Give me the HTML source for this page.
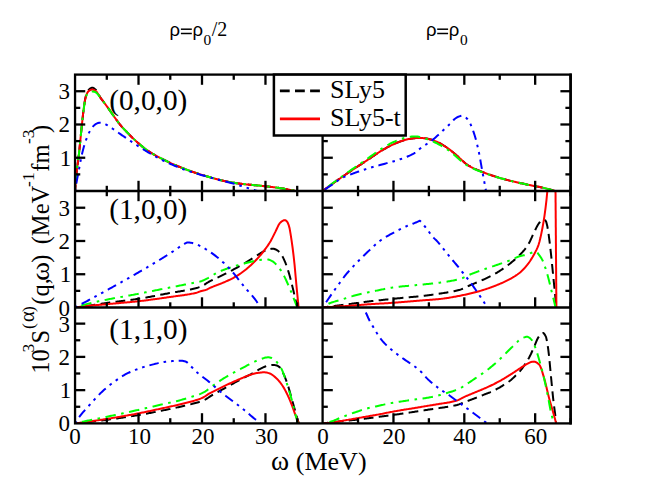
<!DOCTYPE html>
<html><head><meta charset="utf-8"><title>chart</title>
<style>html,body{margin:0;padding:0;background:#fff;}body{width:645px;height:498px;overflow:hidden;font-family:"Liberation Serif",serif;}svg{display:block;}</style></head>
<body>
<svg width="645" height="498" viewBox="0 0 645 498">
<rect x="0" y="0" width="645" height="498" fill="#ffffff"/>
<defs>
<clipPath id="p1"><rect x="75.05" y="74.60" width="247.55" height="116.40"/></clipPath>
<clipPath id="p2"><rect x="75.05" y="191.00" width="247.55" height="116.50"/></clipPath>
<clipPath id="p3"><rect x="75.05" y="307.50" width="247.55" height="115.90"/></clipPath>
<clipPath id="p4"><rect x="322.60" y="74.60" width="248.00" height="116.40"/></clipPath>
<clipPath id="p5"><rect x="322.60" y="191.00" width="248.00" height="116.50"/></clipPath>
<clipPath id="p6"><rect x="322.60" y="307.50" width="248.00" height="115.90"/></clipPath>
</defs>
<path d="M75.05 191.00 L76.05 177.79 L77.05 168.21 L78.05 161.32 L79.05 153.17 L80.06 143.21 L81.06 132.87 L82.06 123.29 L83.06 114.12 L84.06 106.36 L85.06 99.56 L86.06 95.20 L87.06 92.41 L88.06 90.53 L89.07 89.48 L90.07 88.62 L91.07 88.00 L92.07 87.71 L93.07 87.84 L94.07 88.37 L95.07 89.17 L96.07 90.10 L97.08 91.58 L98.08 93.44 L99.08 95.32 L100.08 97.12 L101.08 98.58 L102.08 99.89 L103.08 101.18 L104.08 102.52 L105.08 103.87 L106.09 105.23 L107.09 106.59 L108.09 107.97 L109.09 109.37 L110.09 110.81 L111.09 112.26 L112.09 113.72 L113.09 115.17 L114.09 116.59 L115.10 117.99 L116.10 119.39 L117.10 120.78 L118.10 122.15 L119.10 123.48 L120.10 124.75 L121.10 125.96 L122.10 127.09 L123.10 128.18 L124.11 129.23 L125.11 130.26 L126.11 131.28 L127.11 132.31 L128.11 133.36 L129.11 134.40 L130.11 135.43 L131.11 136.45 L132.11 137.45 L133.12 138.42 L134.12 139.37 L135.12 140.30 L136.12 141.22 L137.12 142.12 L138.12 143.00 L139.12 143.86 L140.12 144.71 L141.12 145.56 L142.13 146.38 L143.13 147.20 L144.13 147.99 L145.13 148.75 L146.13 149.49 L147.13 150.21 L148.13 150.91 L149.13 151.59 L150.14 152.25 L151.14 152.89 L152.14 153.51 L153.14 154.11 L154.14 154.69 L155.14 155.25 L156.14 155.80 L157.14 156.34 L158.14 156.88 L159.15 157.40 L160.15 157.93 L161.15 158.44 L162.15 158.96 L163.15 159.47 L164.15 159.97 L165.15 160.47 L166.15 160.96 L167.15 161.45 L168.16 161.93 L169.16 162.41 L170.16 162.87 L171.16 163.33 L172.16 163.79 L173.16 164.23 L174.16 164.67 L175.16 165.10 L176.16 165.53 L177.17 165.95 L178.17 166.37 L179.17 166.78 L180.17 167.19 L181.17 167.60 L182.17 168.00 L183.17 168.39 L184.17 168.78 L185.18 169.16 L186.18 169.54 L187.18 169.92 L188.18 170.29 L189.18 170.65 L190.18 171.01 L191.18 171.37 L192.18 171.72 L193.18 172.06 L194.19 172.40 L195.19 172.74 L196.19 173.07 L197.19 173.39 L198.19 173.71 L199.19 174.03 L200.19 174.34 L201.19 174.65 L202.19 174.95 L203.20 175.25 L204.20 175.55 L205.20 175.85 L206.20 176.14 L207.20 176.44 L208.20 176.73 L209.20 177.01 L210.20 177.30 L211.20 177.59 L212.21 177.87 L213.21 178.16 L214.21 178.45 L215.21 178.74 L216.21 179.02 L217.21 179.30 L218.21 179.57 L219.21 179.83 L220.21 180.09 L221.22 180.32 L222.22 180.55 L223.22 180.76 L224.22 180.98 L225.22 181.18 L226.22 181.39 L227.22 181.59 L228.22 181.78 L229.23 181.97 L230.23 182.16 L231.23 182.34 L232.23 182.52 L233.23 182.69 L234.23 182.86 L235.23 183.02 L236.23 183.17 L237.23 183.32 L238.24 183.46 L239.24 183.60 L240.24 183.73 L241.24 183.85 L242.24 183.97 L243.24 184.08 L244.24 184.19 L245.24 184.30 L246.24 184.40 L247.25 184.49 L248.25 184.59 L249.25 184.68 L250.25 184.77 L251.25 184.86 L252.25 184.95 L253.25 185.04 L254.25 185.13 L255.25 185.22 L256.26 185.32 L257.26 185.41 L258.26 185.52 L259.26 185.62 L260.26 185.73 L261.26 185.84 L262.26 185.95 L263.26 186.06 L264.26 186.17 L265.27 186.28 L266.27 186.39 L267.27 186.50 L268.27 186.61 L269.27 186.73 L270.27 186.84 L271.27 186.96 L272.27 187.08 L273.28 187.20 L274.28 187.33 L275.28 187.46 L276.28 187.59 L277.28 187.72 L278.28 187.86 L279.28 188.00 L280.28 188.14 L281.28 188.29 L282.29 188.44 L283.29 188.60 L284.29 188.77 L285.29 188.95 L286.29 189.13 L287.29 189.32 L288.29 189.51 L289.29 189.71 L290.29 189.92 L291.30 190.13 L292.30 190.34 L293.30 190.56 L294.30 190.78 L295.30 191.00" fill="none" stroke="#000000" stroke-width="2.0" stroke-linejoin="round" stroke-dasharray="9.8 5.3" stroke-dashoffset="3.9" clip-path="url(#p1)"/>
<path d="M75.05 191.00 L76.05 177.79 L77.05 168.21 L78.05 161.32 L79.05 153.17 L80.06 143.21 L81.06 132.87 L82.06 123.28 L83.06 114.07 L84.06 106.44 L85.06 99.89 L86.06 95.81 L87.06 93.28 L88.06 91.63 L89.07 90.80 L90.07 90.17 L91.07 89.72 L92.07 89.51 L93.07 89.60 L94.07 89.98 L95.07 90.56 L96.07 91.26 L97.08 92.46 L98.08 94.02 L99.08 95.56 L100.08 97.11 L101.08 98.51 L102.08 99.85 L103.08 101.17 L104.08 102.52 L105.08 103.87 L106.09 105.23 L107.09 106.59 L108.09 107.97 L109.09 109.37 L110.09 110.81 L111.09 112.26 L112.09 113.72 L113.09 115.17 L114.09 116.59 L115.10 117.99 L116.10 119.39 L117.10 120.78 L118.10 122.15 L119.10 123.48 L120.10 124.75 L121.10 125.96 L122.10 127.09 L123.10 128.18 L124.11 129.23 L125.11 130.26 L126.11 131.28 L127.11 132.31 L128.11 133.36 L129.11 134.40 L130.11 135.43 L131.11 136.45 L132.11 137.45 L133.12 138.42 L134.12 139.37 L135.12 140.30 L136.12 141.22 L137.12 142.12 L138.12 143.00 L139.12 143.86 L140.12 144.71 L141.12 145.56 L142.13 146.38 L143.13 147.20 L144.13 147.99 L145.13 148.75 L146.13 149.49 L147.13 150.21 L148.13 150.91 L149.13 151.59 L150.14 152.25 L151.14 152.89 L152.14 153.51 L153.14 154.11 L154.14 154.69 L155.14 155.25 L156.14 155.80 L157.14 156.34 L158.14 156.88 L159.15 157.40 L160.15 157.93 L161.15 158.44 L162.15 158.96 L163.15 159.47 L164.15 159.97 L165.15 160.47 L166.15 160.96 L167.15 161.45 L168.16 161.93 L169.16 162.41 L170.16 162.87 L171.16 163.33 L172.16 163.79 L173.16 164.23 L174.16 164.67 L175.16 165.10 L176.16 165.53 L177.17 165.95 L178.17 166.37 L179.17 166.78 L180.17 167.19 L181.17 167.60 L182.17 168.00 L183.17 168.39 L184.17 168.78 L185.18 169.16 L186.18 169.54 L187.18 169.92 L188.18 170.29 L189.18 170.65 L190.18 171.01 L191.18 171.37 L192.18 171.72 L193.18 172.06 L194.19 172.40 L195.19 172.74 L196.19 173.07 L197.19 173.39 L198.19 173.71 L199.19 174.03 L200.19 174.34 L201.19 174.65 L202.19 174.95 L203.20 175.25 L204.20 175.55 L205.20 175.85 L206.20 176.14 L207.20 176.44 L208.20 176.73 L209.20 177.01 L210.20 177.30 L211.20 177.59 L212.21 177.87 L213.21 178.16 L214.21 178.45 L215.21 178.74 L216.21 179.02 L217.21 179.30 L218.21 179.57 L219.21 179.83 L220.21 180.09 L221.22 180.32 L222.22 180.55 L223.22 180.76 L224.22 180.98 L225.22 181.18 L226.22 181.39 L227.22 181.59 L228.22 181.78 L229.23 181.97 L230.23 182.16 L231.23 182.34 L232.23 182.52 L233.23 182.69 L234.23 182.86 L235.23 183.02 L236.23 183.17 L237.23 183.32 L238.24 183.46 L239.24 183.60 L240.24 183.73 L241.24 183.85 L242.24 183.97 L243.24 184.08 L244.24 184.19 L245.24 184.30 L246.24 184.40 L247.25 184.49 L248.25 184.59 L249.25 184.68 L250.25 184.77 L251.25 184.86 L252.25 184.95 L253.25 185.04 L254.25 185.13 L255.25 185.22 L256.26 185.32 L257.26 185.41 L258.26 185.52 L259.26 185.62 L260.26 185.73 L261.26 185.84 L262.26 185.95 L263.26 186.06 L264.26 186.17 L265.27 186.28 L266.27 186.39 L267.27 186.50 L268.27 186.61 L269.27 186.73 L270.27 186.84 L271.27 186.96 L272.27 187.08 L273.28 187.20 L274.28 187.33 L275.28 187.46 L276.28 187.59 L277.28 187.72 L278.28 187.86 L279.28 188.00 L280.28 188.14 L281.28 188.29 L282.29 188.44 L283.29 188.60 L284.29 188.77 L285.29 188.95 L286.29 189.13 L287.29 189.32 L288.29 189.51 L289.29 189.71 L290.29 189.92 L291.30 190.13 L292.30 190.34 L293.30 190.56 L294.30 190.78 L295.30 191.00" fill="none" stroke="#ff0000" stroke-width="2.0" stroke-linejoin="round" clip-path="url(#p1)"/>
<path d="M75.05 191.00 L76.05 177.79 L77.05 168.21 L78.05 161.32 L79.05 153.17 L80.06 143.21 L81.06 132.87 L82.06 123.26 L83.06 114.01 L84.06 106.51 L85.06 100.23 L86.06 96.46 L87.06 94.19 L88.06 92.78 L89.07 92.21 L90.07 91.80 L91.07 91.53 L92.07 91.40 L93.07 91.46 L94.07 91.68 L95.07 92.03 L96.07 92.47 L97.08 93.39 L98.08 94.63 L99.08 95.82 L100.08 97.10 L101.08 98.43 L102.08 99.79 L103.08 101.17 L104.08 102.52 L105.08 103.87 L106.09 105.23 L107.09 106.59 L108.09 107.97 L109.09 109.37 L110.09 110.81 L111.09 112.26 L112.09 113.72 L113.09 115.17 L114.09 116.59 L115.10 117.99 L116.10 119.39 L117.10 120.78 L118.10 122.15 L119.10 123.48 L120.10 124.75 L121.10 125.96 L122.10 127.09 L123.10 128.18 L124.11 129.23 L125.11 130.26 L126.11 131.28 L127.11 132.31 L128.11 133.36 L129.11 134.40 L130.11 135.43 L131.11 136.45 L132.11 137.45 L133.12 138.42 L134.12 139.37 L135.12 140.30 L136.12 141.22 L137.12 142.12 L138.12 143.00 L139.12 143.86 L140.12 144.71 L141.12 145.56 L142.13 146.38 L143.13 147.20 L144.13 147.99 L145.13 148.75 L146.13 149.49 L147.13 150.21 L148.13 150.91 L149.13 151.59 L150.14 152.25 L151.14 152.89 L152.14 153.51 L153.14 154.11 L154.14 154.69 L155.14 155.25 L156.14 155.80 L157.14 156.34 L158.14 156.88 L159.15 157.40 L160.15 157.93 L161.15 158.44 L162.15 158.96 L163.15 159.47 L164.15 159.97 L165.15 160.47 L166.15 160.96 L167.15 161.45 L168.16 161.93 L169.16 162.41 L170.16 162.87 L171.16 163.33 L172.16 163.79 L173.16 164.23 L174.16 164.67 L175.16 165.10 L176.16 165.53 L177.17 165.95 L178.17 166.37 L179.17 166.78 L180.17 167.19 L181.17 167.60 L182.17 168.00 L183.17 168.39 L184.17 168.78 L185.18 169.16 L186.18 169.54 L187.18 169.92 L188.18 170.29 L189.18 170.65 L190.18 171.01 L191.18 171.37 L192.18 171.72 L193.18 172.06 L194.19 172.40 L195.19 172.74 L196.19 173.07 L197.19 173.39 L198.19 173.71 L199.19 174.03 L200.19 174.34 L201.19 174.65 L202.19 174.95 L203.20 175.25 L204.20 175.55 L205.20 175.85 L206.20 176.14 L207.20 176.44 L208.20 176.73 L209.20 177.01 L210.20 177.30 L211.20 177.59 L212.21 177.87 L213.21 178.16 L214.21 178.45 L215.21 178.74 L216.21 179.02 L217.21 179.30 L218.21 179.57 L219.21 179.83 L220.21 180.09 L221.22 180.32 L222.22 180.55 L223.22 180.76 L224.22 180.98 L225.22 181.18 L226.22 181.39 L227.22 181.59 L228.22 181.78 L229.23 181.97 L230.23 182.16 L231.23 182.34 L232.23 182.52 L233.23 182.69 L234.23 182.86 L235.23 183.02 L236.23 183.17 L237.23 183.32 L238.24 183.46 L239.24 183.60 L240.24 183.73 L241.24 183.85 L242.24 183.97 L243.24 184.08 L244.24 184.19 L245.24 184.30 L246.24 184.40 L247.25 184.49 L248.25 184.59 L249.25 184.68 L250.25 184.77 L251.25 184.86 L252.25 184.95 L253.25 185.04 L254.25 185.13 L255.25 185.22 L256.26 185.32 L257.26 185.41 L258.26 185.52 L259.26 185.62 L260.26 185.73 L261.26 185.84 L262.26 185.95 L263.26 186.06 L264.26 186.17 L265.27 186.28 L266.27 186.39 L267.27 186.50 L268.27 186.61 L269.27 186.73 L270.27 186.84 L271.27 186.96 L272.27 187.08 L273.28 187.20 L274.28 187.33 L275.28 187.46 L276.28 187.59 L277.28 187.72 L278.28 187.86 L279.28 188.00 L280.28 188.14 L281.28 188.29 L282.29 188.44 L283.29 188.60 L284.29 188.77 L285.29 188.95 L286.29 189.13 L287.29 189.32 L288.29 189.51 L289.29 189.71 L290.29 189.92 L291.30 190.13 L292.30 190.34 L293.30 190.56 L294.30 190.78 L295.30 191.00" fill="none" stroke="#00ff00" stroke-width="2.0" stroke-linejoin="round" stroke-dasharray="10.5 5.5 2.6 5.5" stroke-dashoffset="17.1" clip-path="url(#p1)"/>
<path d="M75.05 191.00 L76.05 185.09 L77.05 179.54 L78.05 174.30 L79.06 169.08 L80.06 163.69 L81.06 158.46 L82.06 153.73 L83.06 149.71 L84.06 146.10 L85.06 142.84 L86.07 139.90 L87.07 137.22 L88.07 134.78 L89.07 132.64 L90.07 130.78 L91.07 129.10 L92.07 127.62 L93.07 126.42 L94.08 125.39 L95.08 124.48 L96.08 123.80 L97.08 123.37 L98.08 123.00 L99.08 122.76 L100.08 122.71 L101.09 122.82 L102.09 123.04 L103.09 123.32 L104.09 123.63 L105.09 124.02 L106.09 124.53 L107.09 125.13 L108.10 125.77 L109.10 126.43 L110.10 127.06 L111.10 127.69 L112.10 128.34 L113.10 129.01 L114.10 129.69 L115.10 130.38 L116.11 131.09 L117.11 131.79 L118.11 132.51 L119.11 133.22 L120.11 133.92 L121.11 134.62 L122.11 135.31 L123.12 135.99 L124.12 136.68 L125.12 137.37 L126.12 138.05 L127.12 138.74 L128.12 139.42 L129.12 140.10 L130.13 140.78 L131.13 141.45 L132.13 142.12 L133.13 142.78 L134.13 143.45 L135.13 144.11 L136.13 144.76 L137.14 145.42 L138.14 146.07 L139.14 146.72 L140.14 147.37 L141.14 148.01 L142.14 148.64 L143.14 149.27 L144.14 149.89 L145.15 150.51 L146.15 151.11 L147.15 151.72 L148.15 152.32 L149.15 152.92 L150.15 153.51 L151.15 154.10 L152.16 154.68 L153.16 155.25 L154.16 155.82 L155.16 156.38 L156.16 156.92 L157.16 157.46 L158.16 157.99 L159.17 158.51 L160.17 159.02 L161.17 159.53 L162.17 160.03 L163.17 160.52 L164.17 161.01 L165.17 161.49 L166.18 161.96 L167.18 162.43 L168.18 162.89 L169.18 163.35 L170.18 163.80 L171.18 164.25 L172.18 164.69 L173.18 165.14 L174.19 165.57 L175.19 166.01 L176.19 166.43 L177.19 166.85 L178.19 167.27 L179.19 167.68 L180.19 168.07 L181.20 168.46 L182.20 168.84 L183.20 169.21 L184.20 169.57 L185.20 169.92 L186.20 170.27 L187.20 170.61 L188.21 170.94 L189.21 171.27 L190.21 171.60 L191.21 171.92 L192.21 172.23 L193.21 172.54 L194.21 172.85 L195.21 173.16 L196.22 173.46 L197.22 173.77 L198.22 174.07 L199.22 174.37 L200.22 174.67 L201.22 174.96 L202.22 175.26 L203.23 175.55 L204.23 175.83 L205.23 176.12 L206.23 176.40 L207.23 176.68 L208.23 176.96 L209.23 177.23 L210.24 177.51 L211.24 177.78 L212.24 178.05 L213.24 178.32 L214.24 178.59 L215.24 178.87 L216.24 179.13 L217.25 179.40 L218.25 179.66 L219.25 179.91 L220.25 180.17 L221.25 180.42 L222.25 180.68 L223.25 180.93 L224.25 181.18 L225.26 181.44 L226.26 181.69 L227.26 181.95 L228.26 182.21 L229.26 182.47 L230.26 182.74 L231.26 183.01 L232.27 183.28 L233.27 183.56 L234.27 183.85 L235.27 184.14 L236.27 184.44 L237.27 184.74 L238.27 185.05 L239.28 185.36 L240.28 185.68 L241.28 185.99 L242.28 186.31 L243.28 186.62 L244.28 186.94 L245.28 187.25 L246.28 187.56 L247.29 187.87 L248.29 188.19 L249.29 188.50 L250.29 188.81 L251.29 189.12 L252.29 189.43 L253.29 189.75 L254.30 190.06 L255.30 190.37 L256.30 190.69 L257.30 191.00" fill="none" stroke="#0000ff" stroke-width="2.0" stroke-linejoin="round" stroke-dasharray="9.5 5 2.6 5 2.6 5" stroke-dashoffset="22.2" clip-path="url(#p1)"/>
<path d="M74.50 307.50 L75.50 307.38 L76.50 307.26 L77.50 307.13 L78.50 307.01 L79.50 306.89 L80.50 306.76 L81.50 306.63 L82.50 306.50 L83.50 306.37 L84.50 306.24 L85.50 306.11 L86.51 305.98 L87.51 305.84 L88.51 305.71 L89.51 305.57 L90.51 305.43 L91.51 305.29 L92.51 305.14 L93.51 305.00 L94.51 304.85 L95.51 304.70 L96.51 304.54 L97.51 304.39 L98.51 304.23 L99.51 304.08 L100.51 303.92 L101.51 303.77 L102.51 303.61 L103.51 303.46 L104.51 303.31 L105.51 303.15 L106.51 303.00 L107.51 302.86 L108.52 302.71 L109.52 302.57 L110.52 302.43 L111.52 302.29 L112.52 302.16 L113.52 302.03 L114.52 301.90 L115.52 301.77 L116.52 301.64 L117.52 301.52 L118.52 301.39 L119.52 301.27 L120.52 301.15 L121.52 301.03 L122.52 300.91 L123.52 300.79 L124.52 300.66 L125.52 300.54 L126.52 300.42 L127.52 300.29 L128.52 300.17 L129.52 300.04 L130.53 299.91 L131.53 299.78 L132.53 299.65 L133.53 299.51 L134.53 299.38 L135.53 299.23 L136.53 299.09 L137.53 298.94 L138.53 298.79 L139.53 298.63 L140.53 298.47 L141.53 298.31 L142.53 298.14 L143.53 297.97 L144.53 297.80 L145.53 297.63 L146.53 297.45 L147.53 297.27 L148.53 297.09 L149.53 296.90 L150.53 296.72 L151.53 296.53 L152.53 296.34 L153.54 296.15 L154.54 295.96 L155.54 295.77 L156.54 295.57 L157.54 295.38 L158.54 295.19 L159.54 294.99 L160.54 294.80 L161.54 294.60 L162.54 294.41 L163.54 294.22 L164.54 294.03 L165.54 293.84 L166.54 293.65 L167.54 293.46 L168.54 293.27 L169.54 293.08 L170.54 292.90 L171.54 292.72 L172.54 292.55 L173.54 292.38 L174.54 292.21 L175.55 292.05 L176.55 291.89 L177.55 291.73 L178.55 291.56 L179.55 291.40 L180.55 291.24 L181.55 291.08 L182.55 290.91 L183.55 290.75 L184.55 290.57 L185.55 290.40 L186.55 290.22 L187.55 290.03 L188.55 289.84 L189.55 289.64 L190.55 289.43 L191.55 289.22 L192.55 288.99 L193.55 288.76 L194.55 288.51 L195.55 288.26 L196.55 287.98 L197.56 287.69 L198.56 287.37 L199.56 287.02 L200.56 286.65 L201.56 286.24 L202.56 285.81 L203.56 285.31 L204.56 284.66 L205.56 283.93 L206.56 283.20 L207.56 282.57 L208.56 282.00 L209.56 281.47 L210.56 280.96 L211.56 280.46 L212.56 279.99 L213.56 279.52 L214.56 279.06 L215.56 278.60 L216.56 278.14 L217.56 277.68 L218.56 277.20 L219.57 276.72 L220.57 276.22 L221.57 275.71 L222.57 275.21 L223.57 274.70 L224.57 274.20 L225.57 273.68 L226.57 273.17 L227.57 272.66 L228.57 272.14 L229.57 271.61 L230.57 271.08 L231.57 270.55 L232.57 270.02 L233.57 269.47 L234.57 268.93 L235.57 268.38 L236.57 267.83 L237.57 267.27 L238.57 266.71 L239.57 266.15 L240.57 265.58 L241.57 265.01 L242.58 264.43 L243.58 263.84 L244.58 263.25 L245.58 262.65 L246.58 262.04 L247.58 261.42 L248.58 260.78 L249.58 260.14 L250.58 259.50 L251.58 258.85 L252.58 258.20 L253.58 257.56 L254.58 256.92 L255.58 256.29 L256.58 255.67 L257.58 255.07 L258.58 254.46 L259.58 253.82 L260.58 253.18 L261.58 252.54 L262.58 251.93 L263.58 251.36 L264.59 250.86 L265.59 250.44 L266.59 250.11 L267.59 249.77 L268.59 249.46 L269.59 249.17 L270.59 248.94 L271.59 248.78 L272.59 248.70 L273.59 248.77 L274.59 249.04 L275.59 249.46 L276.59 249.98 L277.59 250.55 L278.59 251.32 L279.59 252.36 L280.59 253.60 L281.59 254.99 L282.59 256.62 L283.59 258.60 L284.59 260.83 L285.59 263.23 L286.60 265.90 L287.60 268.89 L288.60 272.11 L289.60 275.53 L290.60 279.30 L291.60 283.29 L292.60 287.37 L293.60 291.47 L294.60 295.76 L295.60 300.02 L296.60 304.00 L297.60 307.50" fill="none" stroke="#000000" stroke-width="2.0" stroke-linejoin="round" stroke-dasharray="9.8 5.3" stroke-dashoffset="3.9" clip-path="url(#p2)"/>
<path d="M74.50 307.50 L75.50 307.37 L76.50 307.25 L77.50 307.12 L78.50 307.00 L79.50 306.88 L80.50 306.76 L81.50 306.64 L82.50 306.52 L83.50 306.41 L84.50 306.29 L85.50 306.18 L86.51 306.07 L87.51 305.96 L88.51 305.85 L89.51 305.75 L90.51 305.65 L91.51 305.55 L92.51 305.45 L93.51 305.36 L94.51 305.26 L95.51 305.17 L96.51 305.08 L97.51 304.99 L98.51 304.90 L99.51 304.82 L100.51 304.73 L101.51 304.64 L102.51 304.56 L103.51 304.47 L104.51 304.39 L105.51 304.30 L106.51 304.21 L107.51 304.12 L108.52 304.03 L109.52 303.94 L110.52 303.85 L111.52 303.76 L112.52 303.67 L113.52 303.58 L114.52 303.49 L115.52 303.40 L116.52 303.32 L117.52 303.23 L118.52 303.14 L119.52 303.05 L120.52 302.96 L121.52 302.87 L122.52 302.79 L123.52 302.70 L124.52 302.61 L125.52 302.52 L126.52 302.42 L127.52 302.33 L128.52 302.24 L129.52 302.14 L130.53 302.05 L131.53 301.95 L132.53 301.85 L133.53 301.75 L134.53 301.65 L135.53 301.54 L136.53 301.44 L137.53 301.33 L138.53 301.22 L139.53 301.11 L140.53 300.99 L141.53 300.88 L142.53 300.76 L143.53 300.64 L144.53 300.52 L145.53 300.39 L146.53 300.27 L147.53 300.14 L148.53 300.01 L149.53 299.88 L150.53 299.75 L151.53 299.61 L152.53 299.48 L153.54 299.34 L154.54 299.21 L155.54 299.07 L156.54 298.93 L157.54 298.79 L158.54 298.65 L159.54 298.51 L160.54 298.37 L161.54 298.22 L162.54 298.08 L163.54 297.94 L164.54 297.79 L165.54 297.65 L166.54 297.50 L167.54 297.36 L168.54 297.21 L169.54 297.07 L170.54 296.92 L171.54 296.78 L172.54 296.64 L173.54 296.51 L174.54 296.37 L175.55 296.24 L176.55 296.11 L177.55 295.98 L178.55 295.84 L179.55 295.71 L180.55 295.58 L181.55 295.44 L182.55 295.30 L183.55 295.16 L184.55 295.01 L185.55 294.86 L186.55 294.71 L187.55 294.55 L188.55 294.38 L189.55 294.20 L190.55 294.02 L191.55 293.83 L192.55 293.64 L193.55 293.43 L194.55 293.21 L195.55 292.98 L196.55 292.73 L197.55 292.41 L198.56 292.03 L199.56 291.65 L200.56 291.29 L201.56 291.00 L202.56 290.75 L203.56 290.52 L204.56 290.28 L205.56 290.00 L206.56 289.65 L207.56 289.21 L208.56 288.71 L209.56 288.18 L210.56 287.69 L211.56 287.24 L212.56 286.82 L213.56 286.42 L214.56 286.03 L215.56 285.64 L216.56 285.27 L217.56 284.89 L218.56 284.51 L219.56 284.13 L220.57 283.74 L221.57 283.34 L222.57 282.93 L223.57 282.50 L224.57 282.06 L225.57 281.62 L226.57 281.17 L227.57 280.72 L228.57 280.26 L229.57 279.78 L230.57 279.30 L231.57 278.81 L232.57 278.29 L233.57 277.77 L234.57 277.22 L235.57 276.65 L236.57 276.06 L237.57 275.45 L238.57 274.81 L239.57 274.14 L240.57 273.46 L241.57 272.75 L242.58 272.02 L243.58 271.27 L244.58 270.50 L245.58 269.71 L246.58 268.91 L247.58 268.08 L248.58 267.24 L249.58 266.37 L250.58 265.47 L251.58 264.54 L252.58 263.58 L253.58 262.59 L254.58 261.58 L255.58 260.54 L256.58 259.48 L257.58 258.40 L258.58 257.30 L259.58 256.17 L260.58 255.03 L261.58 253.83 L262.58 252.58 L263.58 251.30 L264.58 249.97 L265.59 248.61 L266.59 247.23 L267.59 245.83 L268.59 244.36 L269.59 242.82 L270.59 241.16 L271.59 239.34 L272.59 237.38 L273.59 235.35 L274.59 233.33 L275.59 231.38 L276.59 229.30 L277.59 227.11 L278.59 225.05 L279.59 223.40 L280.59 222.35 L281.59 221.54 L282.59 220.84 L283.59 220.34 L284.59 220.11 L285.59 220.33 L286.59 221.10 L287.60 222.37 L288.60 224.83 L289.60 228.39 L290.60 234.06 L291.60 240.64 L292.60 247.76 L293.60 255.86 L294.60 265.19 L295.60 276.28 L296.60 287.12 L297.60 297.40 L298.60 307.50" fill="none" stroke="#ff0000" stroke-width="2.0" stroke-linejoin="round" clip-path="url(#p2)"/>
<path d="M74.50 307.50 L75.50 307.19 L76.51 306.89 L77.51 306.59 L78.51 306.29 L79.52 306.00 L80.52 305.72 L81.52 305.43 L82.53 305.16 L83.53 304.89 L84.53 304.62 L85.53 304.36 L86.54 304.11 L87.54 303.86 L88.54 303.61 L89.55 303.36 L90.55 303.12 L91.55 302.88 L92.56 302.65 L93.56 302.42 L94.56 302.19 L95.57 301.96 L96.57 301.74 L97.57 301.52 L98.58 301.30 L99.58 301.09 L100.58 300.88 L101.59 300.67 L102.59 300.46 L103.59 300.26 L104.59 300.06 L105.60 299.86 L106.60 299.66 L107.60 299.46 L108.61 299.27 L109.61 299.08 L110.61 298.89 L111.62 298.70 L112.62 298.51 L113.62 298.33 L114.63 298.14 L115.63 297.96 L116.63 297.78 L117.64 297.59 L118.64 297.41 L119.64 297.23 L120.65 297.05 L121.65 296.87 L122.65 296.69 L123.65 296.51 L124.66 296.33 L125.66 296.15 L126.66 295.97 L127.67 295.79 L128.67 295.60 L129.67 295.42 L130.68 295.24 L131.68 295.05 L132.68 294.87 L133.69 294.68 L134.69 294.49 L135.69 294.30 L136.70 294.11 L137.70 293.92 L138.70 293.73 L139.70 293.53 L140.71 293.33 L141.71 293.14 L142.71 292.94 L143.72 292.74 L144.72 292.55 L145.72 292.35 L146.73 292.15 L147.73 291.95 L148.73 291.75 L149.74 291.55 L150.74 291.35 L151.74 291.15 L152.75 290.95 L153.75 290.75 L154.75 290.55 L155.76 290.34 L156.76 290.14 L157.76 289.94 L158.76 289.74 L159.77 289.54 L160.77 289.34 L161.77 289.14 L162.78 288.94 L163.78 288.74 L164.78 288.54 L165.79 288.34 L166.79 288.14 L167.79 287.94 L168.80 287.74 L169.80 287.54 L170.80 287.34 L171.81 287.14 L172.81 286.95 L173.81 286.75 L174.82 286.55 L175.82 286.36 L176.82 286.16 L177.82 285.97 L178.83 285.77 L179.83 285.57 L180.83 285.38 L181.84 285.18 L182.84 284.99 L183.84 284.79 L184.85 284.60 L185.85 284.40 L186.85 284.20 L187.86 284.01 L188.86 283.81 L189.86 283.61 L190.87 283.42 L191.87 283.22 L192.87 283.02 L193.88 282.82 L194.88 282.62 L195.88 282.43 L196.88 282.26 L197.89 282.07 L198.89 281.87 L199.89 281.63 L200.90 281.32 L201.90 280.95 L202.90 280.52 L203.91 280.04 L204.91 279.55 L205.91 279.04 L206.92 278.54 L207.92 278.04 L208.92 277.50 L209.93 276.93 L210.93 276.34 L211.93 275.74 L212.94 275.13 L213.94 274.52 L214.94 273.92 L215.94 273.34 L216.95 272.78 L217.95 272.25 L218.95 271.76 L219.96 271.32 L220.96 270.91 L221.96 270.51 L222.97 270.12 L223.97 269.74 L224.97 269.37 L225.98 269.01 L226.98 268.65 L227.98 268.31 L228.99 267.97 L229.99 267.65 L230.99 267.33 L232.00 267.01 L233.00 266.71 L234.00 266.40 L235.00 266.11 L236.01 265.82 L237.01 265.53 L238.01 265.25 L239.02 264.97 L240.02 264.69 L241.02 264.42 L242.03 264.15 L243.03 263.88 L244.03 263.61 L245.04 263.34 L246.04 263.08 L247.04 262.81 L248.05 262.54 L249.05 262.27 L250.05 262.01 L251.05 261.76 L252.06 261.51 L253.06 261.27 L254.06 261.04 L255.07 260.83 L256.07 260.63 L257.07 260.45 L258.08 260.29 L259.08 260.13 L260.08 259.97 L261.09 259.81 L262.09 259.66 L263.09 259.53 L264.10 259.42 L265.10 259.34 L266.10 259.30 L267.11 259.33 L268.11 259.50 L269.11 259.79 L270.11 260.16 L271.12 260.60 L272.12 261.06 L273.12 261.66 L274.13 262.45 L275.13 263.39 L276.13 264.44 L277.14 265.55 L278.14 266.70 L279.14 267.97 L280.15 269.39 L281.15 270.92 L282.15 272.56 L283.16 274.27 L284.16 276.13 L285.16 278.15 L286.17 280.29 L287.17 282.50 L288.17 284.74 L289.17 287.07 L290.18 289.49 L291.18 291.97 L292.18 294.46 L293.19 296.98 L294.19 299.55 L295.19 302.16 L296.20 304.81 L297.20 307.50" fill="none" stroke="#00ff00" stroke-width="2.0" stroke-linejoin="round" stroke-dasharray="10.5 5.5 2.6 5.5" stroke-dashoffset="17.1" clip-path="url(#p2)"/>
<path d="M75.05 307.50 L76.05 306.97 L77.05 306.43 L78.06 305.89 L79.06 305.36 L80.06 304.82 L81.06 304.28 L82.07 303.75 L83.07 303.21 L84.07 302.67 L85.07 302.13 L86.07 301.59 L87.08 301.04 L88.08 300.50 L89.08 299.96 L90.08 299.42 L91.09 298.87 L92.09 298.33 L93.09 297.78 L94.09 297.24 L95.09 296.69 L96.10 296.14 L97.10 295.59 L98.10 295.04 L99.10 294.49 L100.11 293.94 L101.11 293.39 L102.11 292.84 L103.11 292.29 L104.11 291.74 L105.12 291.18 L106.12 290.63 L107.12 290.08 L108.12 289.53 L109.13 288.97 L110.13 288.42 L111.13 287.86 L112.13 287.31 L113.13 286.75 L114.14 286.20 L115.14 285.64 L116.14 285.09 L117.14 284.53 L118.15 283.97 L119.15 283.41 L120.15 282.85 L121.15 282.29 L122.15 281.73 L123.16 281.16 L124.16 280.60 L125.16 280.03 L126.16 279.47 L127.17 278.90 L128.17 278.33 L129.17 277.76 L130.17 277.19 L131.18 276.62 L132.18 276.05 L133.18 275.47 L134.18 274.89 L135.18 274.32 L136.19 273.74 L137.19 273.16 L138.19 272.57 L139.19 271.99 L140.20 271.41 L141.20 270.82 L142.20 270.24 L143.20 269.65 L144.20 269.06 L145.21 268.47 L146.21 267.88 L147.21 267.29 L148.21 266.70 L149.22 266.11 L150.22 265.52 L151.22 264.92 L152.22 264.32 L153.22 263.72 L154.23 263.12 L155.23 262.52 L156.23 261.92 L157.23 261.31 L158.24 260.70 L159.24 260.09 L160.24 259.48 L161.24 258.87 L162.24 258.25 L163.25 257.63 L164.25 257.01 L165.25 256.39 L166.25 255.76 L167.26 255.13 L168.26 254.50 L169.26 253.87 L170.26 253.23 L171.26 252.58 L172.27 251.91 L173.27 251.23 L174.27 250.53 L175.27 249.83 L176.28 249.13 L177.28 248.43 L178.28 247.74 L179.28 247.06 L180.28 246.39 L181.29 245.74 L182.29 245.11 L183.29 244.51 L184.29 243.94 L185.30 243.40 L186.30 242.89 L187.30 242.40 L188.31 242.46 L189.32 242.57 L190.33 242.70 L191.34 242.86 L192.35 243.07 L193.36 243.33 L194.37 243.64 L195.38 243.98 L196.39 244.34 L197.40 244.73 L198.41 245.16 L199.42 245.63 L200.43 246.12 L201.44 246.65 L202.45 247.20 L203.46 247.78 L204.47 248.38 L205.48 248.99 L206.48 249.62 L207.49 250.27 L208.50 250.92 L209.51 251.58 L210.52 252.25 L211.53 252.94 L212.54 253.65 L213.55 254.38 L214.56 255.13 L215.57 255.91 L216.58 256.71 L217.59 257.52 L218.60 258.36 L219.61 259.21 L220.62 260.09 L221.63 260.98 L222.64 261.89 L223.65 262.82 L224.66 263.76 L225.67 264.72 L226.68 265.70 L227.69 266.69 L228.70 267.71 L229.71 268.79 L230.72 269.91 L231.73 271.06 L232.74 272.25 L233.75 273.47 L234.76 274.71 L235.77 275.97 L236.78 277.24 L237.79 278.53 L238.80 279.82 L239.81 281.11 L240.82 282.40 L241.82 283.68 L242.83 284.95 L243.84 286.20 L244.85 287.42 L245.86 288.62 L246.87 289.77 L247.88 290.89 L248.89 292.00 L249.90 293.11 L250.91 294.23 L251.92 295.38 L252.93 296.57 L253.94 297.82 L254.95 299.13 L255.96 300.52 L256.97 302.02 L257.98 303.73 L258.99 305.58 L260.00 307.50" fill="none" stroke="#0000ff" stroke-width="2.0" stroke-linejoin="round" stroke-dasharray="9.5 5 2.6 5 2.6 5" stroke-dashoffset="22.2" clip-path="url(#p2)"/>
<path d="M75.05 423.40 L76.05 423.30 L77.06 423.19 L78.06 423.09 L79.06 422.99 L80.07 422.88 L81.07 422.78 L82.07 422.67 L83.08 422.56 L84.08 422.45 L85.08 422.35 L86.09 422.24 L87.09 422.12 L88.09 422.01 L89.10 421.90 L90.10 421.79 L91.10 421.68 L92.11 421.56 L93.11 421.45 L94.11 421.33 L95.12 421.22 L96.12 421.10 L97.12 420.99 L98.13 420.87 L99.13 420.75 L100.13 420.63 L101.14 420.51 L102.14 420.39 L103.14 420.27 L104.15 420.15 L105.15 420.02 L106.15 419.90 L107.16 419.77 L108.16 419.64 L109.16 419.51 L110.17 419.38 L111.17 419.24 L112.17 419.11 L113.18 418.97 L114.18 418.83 L115.18 418.69 L116.19 418.55 L117.19 418.41 L118.19 418.27 L119.20 418.12 L120.20 417.97 L121.20 417.83 L122.21 417.68 L123.21 417.53 L124.21 417.38 L125.22 417.22 L126.22 417.07 L127.22 416.91 L128.23 416.76 L129.23 416.60 L130.23 416.44 L131.24 416.28 L132.24 416.12 L133.25 415.96 L134.25 415.79 L135.25 415.63 L136.26 415.46 L137.26 415.29 L138.26 415.12 L139.27 414.95 L140.27 414.78 L141.27 414.60 L142.28 414.42 L143.28 414.24 L144.28 414.05 L145.29 413.87 L146.29 413.68 L147.29 413.49 L148.30 413.30 L149.30 413.10 L150.30 412.91 L151.31 412.72 L152.31 412.52 L153.31 412.32 L154.32 412.12 L155.32 411.93 L156.32 411.73 L157.33 411.53 L158.33 411.33 L159.33 411.13 L160.34 410.93 L161.34 410.73 L162.34 410.54 L163.35 410.33 L164.35 410.13 L165.35 409.93 L166.36 409.73 L167.36 409.52 L168.36 409.32 L169.37 409.11 L170.37 408.90 L171.37 408.69 L172.38 408.48 L173.38 408.27 L174.38 408.05 L175.39 407.83 L176.39 407.61 L177.39 407.39 L178.40 407.17 L179.40 406.95 L180.40 406.72 L181.41 406.50 L182.41 406.27 L183.41 406.04 L184.42 405.81 L185.42 405.57 L186.42 405.33 L187.43 405.09 L188.43 404.85 L189.43 404.60 L190.44 404.35 L191.44 404.10 L192.44 403.84 L193.45 403.58 L194.45 403.32 L195.45 403.06 L196.46 402.79 L197.46 402.51 L198.46 402.22 L199.47 401.91 L200.47 401.58 L201.47 401.23 L202.48 400.84 L203.48 400.42 L204.48 399.95 L205.49 399.44 L206.49 398.86 L207.49 398.21 L208.50 397.52 L209.50 396.83 L210.50 396.16 L211.51 395.54 L212.51 394.94 L213.51 394.35 L214.52 393.78 L215.52 393.21 L216.52 392.65 L217.53 392.10 L218.53 391.55 L219.53 391.00 L220.54 390.46 L221.54 389.91 L222.54 389.36 L223.55 388.81 L224.55 388.26 L225.55 387.71 L226.56 387.15 L227.56 386.59 L228.56 386.04 L229.57 385.48 L230.57 384.93 L231.57 384.37 L232.58 383.82 L233.58 383.27 L234.58 382.72 L235.59 382.18 L236.59 381.63 L237.59 381.09 L238.60 380.56 L239.60 380.02 L240.60 379.49 L241.61 378.97 L242.61 378.46 L243.62 377.95 L244.62 377.45 L245.62 376.94 L246.63 376.44 L247.63 375.93 L248.63 375.42 L249.64 374.89 L250.64 374.36 L251.64 373.80 L252.65 373.22 L253.65 372.64 L254.65 372.04 L255.66 371.45 L256.66 370.86 L257.66 370.27 L258.67 369.70 L259.67 369.15 L260.67 368.62 L261.68 368.12 L262.68 367.65 L263.68 367.20 L264.69 366.74 L265.69 366.31 L266.69 365.94 L267.70 365.66 L268.70 365.47 L269.70 365.29 L270.71 365.15 L271.71 365.04 L272.71 365.00 L273.72 365.03 L274.72 365.12 L275.72 365.26 L276.73 365.48 L277.73 365.93 L278.73 366.54 L279.74 367.39 L280.74 368.73 L281.74 370.37 L282.75 372.18 L283.75 374.34 L284.75 376.74 L285.76 379.27 L286.76 382.03 L287.76 385.00 L288.77 388.16 L289.77 391.64 L290.77 395.31 L291.78 398.93 L292.78 402.49 L293.78 406.06 L294.79 409.62 L295.79 413.19 L296.79 416.72 L297.80 420.13 L298.80 423.40" fill="none" stroke="#000000" stroke-width="2.0" stroke-linejoin="round" stroke-dasharray="9.8 5.3" stroke-dashoffset="3.9" clip-path="url(#p3)"/>
<path d="M75.05 423.40 L76.05 423.27 L77.06 423.14 L78.06 423.01 L79.07 422.88 L80.07 422.75 L81.07 422.62 L82.08 422.49 L83.08 422.35 L84.08 422.22 L85.09 422.08 L86.09 421.94 L87.10 421.81 L88.10 421.67 L89.10 421.53 L90.11 421.38 L91.11 421.24 L92.11 421.10 L93.12 420.96 L94.12 420.81 L95.13 420.67 L96.13 420.52 L97.13 420.37 L98.14 420.23 L99.14 420.08 L100.15 419.93 L101.15 419.78 L102.15 419.63 L103.16 419.47 L104.16 419.32 L105.16 419.16 L106.17 419.01 L107.17 418.85 L108.18 418.69 L109.18 418.53 L110.18 418.37 L111.19 418.21 L112.19 418.04 L113.19 417.88 L114.20 417.71 L115.20 417.55 L116.21 417.38 L117.21 417.21 L118.21 417.04 L119.22 416.87 L120.22 416.70 L121.23 416.53 L122.23 416.35 L123.23 416.18 L124.24 416.00 L125.24 415.82 L126.24 415.64 L127.25 415.46 L128.25 415.28 L129.26 415.10 L130.26 414.92 L131.26 414.73 L132.27 414.55 L133.27 414.36 L134.27 414.17 L135.28 413.98 L136.28 413.79 L137.29 413.60 L138.29 413.41 L139.29 413.21 L140.30 413.01 L141.30 412.81 L142.31 412.60 L143.31 412.40 L144.31 412.19 L145.32 411.98 L146.32 411.76 L147.32 411.55 L148.33 411.34 L149.33 411.12 L150.34 410.90 L151.34 410.68 L152.34 410.47 L153.35 410.25 L154.35 410.03 L155.35 409.81 L156.36 409.59 L157.36 409.37 L158.37 409.15 L159.37 408.94 L160.37 408.72 L161.38 408.50 L162.38 408.29 L163.39 408.07 L164.39 407.86 L165.39 407.64 L166.40 407.43 L167.40 407.21 L168.40 407.00 L169.41 406.78 L170.41 406.56 L171.42 406.34 L172.42 406.11 L173.42 405.89 L174.43 405.66 L175.43 405.43 L176.43 405.20 L177.44 404.97 L178.44 404.73 L179.45 404.50 L180.45 404.27 L181.45 404.03 L182.46 403.80 L183.46 403.56 L184.47 403.32 L185.47 403.07 L186.47 402.82 L187.48 402.57 L188.48 402.31 L189.48 402.04 L190.49 401.77 L191.49 401.50 L192.50 401.22 L193.50 400.93 L194.50 400.63 L195.51 400.33 L196.51 400.01 L197.52 399.68 L198.52 399.34 L199.52 398.98 L200.53 398.60 L201.53 398.18 L202.53 397.73 L203.54 397.23 L204.54 396.65 L205.55 396.01 L206.55 395.32 L207.55 394.63 L208.56 393.95 L209.56 393.34 L210.56 392.79 L211.57 392.27 L212.57 391.78 L213.58 391.30 L214.58 390.83 L215.58 390.35 L216.59 389.86 L217.59 389.35 L218.60 388.85 L219.60 388.34 L220.60 387.83 L221.61 387.32 L222.61 386.82 L223.61 386.33 L224.62 385.85 L225.62 385.38 L226.63 384.91 L227.63 384.44 L228.63 383.98 L229.64 383.52 L230.64 383.06 L231.64 382.61 L232.65 382.16 L233.65 381.72 L234.66 381.28 L235.66 380.84 L236.66 380.40 L237.67 379.97 L238.67 379.54 L239.68 379.11 L240.68 378.68 L241.68 378.25 L242.69 377.81 L243.69 377.36 L244.69 376.93 L245.70 376.50 L246.70 376.09 L247.71 375.69 L248.71 375.33 L249.71 374.99 L250.72 374.68 L251.72 374.37 L252.72 374.08 L253.73 373.80 L254.73 373.53 L255.74 373.30 L256.74 373.10 L257.74 372.93 L258.75 372.80 L259.75 372.67 L260.76 372.55 L261.76 372.45 L262.76 372.37 L263.77 372.32 L264.77 372.30 L265.77 372.38 L266.78 372.56 L267.78 372.84 L268.79 373.16 L269.79 373.52 L270.79 373.95 L271.80 374.53 L272.80 375.25 L273.80 376.04 L274.81 376.87 L275.81 377.73 L276.82 378.67 L277.82 379.70 L278.82 380.81 L279.83 382.00 L280.83 383.30 L281.84 384.71 L282.84 386.23 L283.84 387.86 L284.85 389.64 L285.85 391.53 L286.85 393.51 L287.86 395.59 L288.86 397.78 L289.87 400.09 L290.87 402.54 L291.87 405.13 L292.88 407.88 L293.88 410.77 L294.88 413.54 L295.89 416.19 L296.89 418.74 L297.90 421.13 L298.90 423.40" fill="none" stroke="#ff0000" stroke-width="2.0" stroke-linejoin="round" clip-path="url(#p3)"/>
<path d="M75.05 423.40 L76.05 423.17 L77.06 422.94 L78.06 422.72 L79.06 422.49 L80.07 422.27 L81.07 422.05 L82.07 421.83 L83.08 421.61 L84.08 421.39 L85.08 421.18 L86.09 420.97 L87.09 420.77 L88.09 420.56 L89.10 420.36 L90.10 420.16 L91.10 419.97 L92.11 419.77 L93.11 419.57 L94.11 419.38 L95.12 419.18 L96.12 418.98 L97.12 418.78 L98.13 418.58 L99.13 418.38 L100.13 418.17 L101.14 417.96 L102.14 417.76 L103.14 417.55 L104.15 417.34 L105.15 417.13 L106.15 416.91 L107.16 416.70 L108.16 416.49 L109.16 416.28 L110.17 416.06 L111.17 415.85 L112.17 415.63 L113.18 415.42 L114.18 415.20 L115.19 414.99 L116.19 414.77 L117.19 414.55 L118.20 414.33 L119.20 414.11 L120.20 413.90 L121.21 413.68 L122.21 413.46 L123.21 413.24 L124.22 413.02 L125.22 412.80 L126.22 412.57 L127.23 412.35 L128.23 412.13 L129.23 411.91 L130.24 411.69 L131.24 411.46 L132.24 411.24 L133.25 411.02 L134.25 410.79 L135.25 410.57 L136.26 410.35 L137.26 410.12 L138.26 409.90 L139.27 409.67 L140.27 409.44 L141.27 409.22 L142.28 408.99 L143.28 408.76 L144.28 408.53 L145.29 408.30 L146.29 408.06 L147.29 407.83 L148.30 407.60 L149.30 407.37 L150.30 407.13 L151.31 406.90 L152.31 406.67 L153.31 406.44 L154.32 406.20 L155.32 405.97 L156.32 405.74 L157.33 405.51 L158.33 405.28 L159.33 405.05 L160.34 404.82 L161.34 404.60 L162.34 404.38 L163.35 404.16 L164.35 403.94 L165.35 403.72 L166.36 403.51 L167.36 403.29 L168.36 403.07 L169.37 402.85 L170.37 402.63 L171.37 402.41 L172.38 402.18 L173.38 401.94 L174.38 401.70 L175.39 401.45 L176.39 401.20 L177.39 400.94 L178.40 400.68 L179.40 400.41 L180.40 400.13 L181.41 399.85 L182.41 399.57 L183.41 399.28 L184.42 398.98 L185.42 398.69 L186.42 398.39 L187.43 398.08 L188.43 397.78 L189.44 397.47 L190.44 397.15 L191.44 396.84 L192.45 396.52 L193.45 396.21 L194.45 395.90 L195.46 395.58 L196.46 395.26 L197.46 394.92 L198.47 394.57 L199.47 394.21 L200.47 393.82 L201.48 393.40 L202.48 392.94 L203.48 392.44 L204.49 391.90 L205.49 391.30 L206.49 390.61 L207.50 389.86 L208.50 389.06 L209.50 388.26 L210.51 387.47 L211.51 386.72 L212.51 386.00 L213.52 385.28 L214.52 384.57 L215.52 383.86 L216.53 383.15 L217.53 382.45 L218.53 381.76 L219.54 381.08 L220.54 380.41 L221.54 379.75 L222.55 379.10 L223.55 378.46 L224.55 377.85 L225.56 377.24 L226.56 376.65 L227.56 376.06 L228.57 375.49 L229.57 374.93 L230.57 374.37 L231.58 373.82 L232.58 373.27 L233.58 372.73 L234.59 372.20 L235.59 371.66 L236.59 371.13 L237.60 370.60 L238.60 370.06 L239.60 369.53 L240.61 368.99 L241.61 368.45 L242.61 367.90 L243.62 367.36 L244.62 366.82 L245.62 366.28 L246.63 365.74 L247.63 365.21 L248.63 364.69 L249.64 364.17 L250.64 363.67 L251.64 363.17 L252.65 362.68 L253.65 362.19 L254.65 361.69 L255.66 361.20 L256.66 360.73 L257.66 360.28 L258.67 359.86 L259.67 359.48 L260.67 359.14 L261.68 358.79 L262.68 358.45 L263.69 358.11 L264.69 357.81 L265.69 357.56 L266.70 357.39 L267.70 357.31 L268.70 357.33 L269.71 357.47 L270.71 357.69 L271.71 357.96 L272.72 358.43 L273.72 359.09 L274.72 359.86 L275.73 360.83 L276.73 361.99 L277.73 363.26 L278.74 364.57 L279.74 365.98 L280.74 367.56 L281.75 369.39 L282.75 371.70 L283.75 374.34 L284.76 377.09 L285.76 380.05 L286.76 383.12 L287.77 386.25 L288.77 389.47 L289.77 392.79 L290.78 396.24 L291.78 399.87 L292.78 403.77 L293.79 407.76 L294.79 411.71 L295.79 415.68 L296.80 419.60 L297.80 423.40" fill="none" stroke="#00ff00" stroke-width="2.0" stroke-linejoin="round" stroke-dasharray="10.5 5.5 2.6 5.5" stroke-dashoffset="17.1" clip-path="url(#p3)"/>
<path d="M75.05 423.40 L76.05 421.78 L77.06 420.19 L78.06 418.67 L79.06 417.23 L80.06 415.89 L81.07 414.61 L82.07 413.38 L83.07 412.20 L84.08 411.05 L85.08 409.93 L86.08 408.82 L87.09 407.73 L88.09 406.63 L89.09 405.53 L90.09 404.42 L91.10 403.30 L92.10 402.18 L93.10 401.06 L94.11 399.95 L95.11 398.85 L96.11 397.75 L97.12 396.68 L98.12 395.62 L99.12 394.59 L100.12 393.58 L101.13 392.61 L102.13 391.66 L103.13 390.75 L104.14 389.85 L105.14 388.97 L106.14 388.11 L107.15 387.27 L108.15 386.44 L109.15 385.63 L110.15 384.84 L111.16 384.06 L112.16 383.29 L113.16 382.54 L114.17 381.80 L115.17 381.08 L116.17 380.36 L117.17 379.65 L118.18 378.94 L119.18 378.25 L120.18 377.57 L121.19 376.91 L122.19 376.27 L123.19 375.65 L124.20 375.05 L125.20 374.49 L126.20 373.95 L127.20 373.44 L128.21 372.95 L129.21 372.48 L130.21 372.02 L131.22 371.58 L132.22 371.15 L133.22 370.74 L134.23 370.33 L135.23 369.94 L136.23 369.57 L137.23 369.20 L138.24 368.84 L139.24 368.48 L140.24 368.14 L141.25 367.80 L142.25 367.47 L143.25 367.15 L144.26 366.84 L145.26 366.54 L146.26 366.24 L147.26 365.95 L148.27 365.67 L149.27 365.40 L150.27 365.13 L151.28 364.87 L152.28 364.61 L153.28 364.35 L154.28 364.10 L155.29 363.84 L156.29 363.60 L157.29 363.36 L158.30 363.12 L159.30 362.90 L160.30 362.69 L161.31 362.49 L162.31 362.31 L163.31 362.14 L164.31 361.98 L165.32 361.84 L166.32 361.71 L167.32 361.59 L168.33 361.47 L169.33 361.36 L170.33 361.25 L171.34 361.16 L172.34 361.07 L173.34 361.00 L174.34 360.93 L175.35 360.88 L176.35 360.84 L177.35 360.79 L178.36 360.75 L179.36 360.72 L180.36 360.70 L181.37 360.71 L182.37 360.80 L183.37 360.96 L184.37 361.16 L185.38 361.48 L186.38 361.94 L187.38 362.62 L188.39 363.60 L189.39 364.68 L190.39 365.68 L191.39 366.69 L192.40 367.72 L193.40 368.76 L194.40 369.79 L195.41 370.80 L196.41 371.76 L197.41 372.67 L198.42 373.53 L199.42 374.36 L200.42 375.17 L201.42 375.95 L202.43 376.72 L203.43 377.49 L204.43 378.25 L205.44 379.02 L206.44 379.80 L207.44 380.59 L208.45 381.40 L209.45 382.23 L210.45 383.07 L211.45 383.92 L212.46 384.77 L213.46 385.64 L214.46 386.50 L215.47 387.37 L216.47 388.23 L217.47 389.10 L218.48 389.96 L219.48 390.82 L220.48 391.66 L221.48 392.50 L222.49 393.33 L223.49 394.15 L224.49 394.95 L225.50 395.74 L226.50 396.51 L227.50 397.28 L228.50 398.03 L229.51 398.77 L230.51 399.51 L231.51 400.25 L232.52 400.98 L233.52 401.71 L234.52 402.45 L235.53 403.19 L236.53 403.93 L237.53 404.69 L238.53 405.45 L239.54 406.22 L240.54 407.01 L241.54 407.82 L242.55 408.63 L243.55 409.47 L244.55 410.31 L245.56 411.15 L246.56 412.01 L247.56 412.86 L248.56 413.72 L249.57 414.58 L250.57 415.43 L251.57 416.27 L252.58 417.11 L253.58 417.93 L254.58 418.75 L255.59 419.54 L256.59 420.33 L257.59 421.11 L258.59 421.88 L259.60 422.64 L260.60 423.40" fill="none" stroke="#0000ff" stroke-width="2.0" stroke-linejoin="round" stroke-dasharray="9.5 5 2.6 5 2.6 5" stroke-dashoffset="22.2" clip-path="url(#p3)"/>
<path d="M322.60 191.00 L323.60 190.26 L324.60 189.51 L325.60 188.77 L326.60 188.04 L327.60 187.30 L328.60 186.57 L329.60 185.84 L330.60 185.11 L331.60 184.39 L332.60 183.67 L333.60 182.95 L334.61 182.24 L335.61 181.53 L336.61 180.82 L337.61 180.11 L338.61 179.40 L339.61 178.70 L340.61 178.00 L341.61 177.30 L342.61 176.60 L343.61 175.91 L344.61 175.22 L345.61 174.53 L346.61 173.84 L347.61 173.16 L348.61 172.48 L349.61 171.80 L350.61 171.12 L351.61 170.45 L352.61 169.78 L353.61 169.12 L354.61 168.46 L355.61 167.81 L356.61 167.15 L357.62 166.50 L358.62 165.85 L359.62 165.20 L360.62 164.55 L361.62 163.90 L362.62 163.25 L363.62 162.60 L364.62 161.94 L365.62 161.28 L366.62 160.62 L367.62 159.95 L368.62 159.28 L369.62 158.59 L370.62 157.90 L371.62 157.21 L372.62 156.52 L373.62 155.83 L374.62 155.15 L375.62 154.47 L376.62 153.80 L377.62 153.13 L378.62 152.48 L379.62 151.84 L380.62 151.21 L381.63 150.60 L382.63 150.01 L383.63 149.43 L384.63 148.86 L385.63 148.29 L386.63 147.74 L387.63 147.20 L388.63 146.67 L389.63 146.16 L390.63 145.65 L391.63 145.17 L392.63 144.69 L393.63 144.23 L394.63 143.77 L395.63 143.33 L396.63 142.90 L397.63 142.49 L398.63 142.10 L399.63 141.73 L400.63 141.38 L401.63 141.04 L402.63 140.69 L403.63 140.36 L404.64 140.05 L405.64 139.75 L406.64 139.49 L407.64 139.26 L408.64 139.06 L409.64 138.90 L410.64 138.74 L411.64 138.59 L412.64 138.45 L413.64 138.31 L414.64 138.19 L415.64 138.09 L416.64 138.00 L417.64 137.94 L418.64 137.91 L419.64 137.90 L420.64 137.93 L421.64 137.99 L422.64 138.07 L423.64 138.16 L424.64 138.26 L425.64 138.38 L426.64 138.54 L427.65 138.75 L428.65 138.99 L429.65 139.25 L430.65 139.53 L431.65 139.82 L432.65 140.15 L433.65 140.52 L434.65 140.91 L435.65 141.34 L436.65 141.78 L437.65 142.25 L438.65 142.73 L439.65 143.22 L440.65 143.74 L441.65 144.28 L442.65 144.87 L443.65 145.48 L444.65 146.12 L445.65 146.78 L446.65 147.46 L447.65 148.16 L448.65 148.87 L449.65 149.61 L450.66 150.38 L451.66 151.18 L452.66 152.00 L453.66 152.84 L454.66 153.68 L455.66 154.53 L456.66 155.42 L457.66 156.33 L458.66 157.26 L459.66 158.19 L460.66 159.11 L461.66 160.00 L462.66 160.88 L463.66 161.76 L464.66 162.64 L465.66 163.50 L466.66 164.30 L467.66 165.02 L468.66 165.65 L469.66 166.24 L470.66 166.80 L471.66 167.33 L472.66 167.84 L473.67 168.33 L474.67 168.80 L475.67 169.25 L476.67 169.68 L477.67 170.11 L478.67 170.52 L479.67 170.93 L480.67 171.33 L481.67 171.72 L482.67 172.11 L483.67 172.50 L484.67 172.88 L485.67 173.25 L486.67 173.62 L487.67 173.98 L488.67 174.33 L489.67 174.68 L490.67 175.03 L491.67 175.37 L492.67 175.70 L493.67 176.03 L494.67 176.35 L495.67 176.67 L496.68 176.99 L497.68 177.30 L498.68 177.60 L499.68 177.90 L500.68 178.19 L501.68 178.48 L502.68 178.77 L503.68 179.05 L504.68 179.32 L505.68 179.59 L506.68 179.86 L507.68 180.12 L508.68 180.38 L509.68 180.63 L510.68 180.88 L511.68 181.12 L512.68 181.36 L513.68 181.60 L514.68 181.83 L515.68 182.06 L516.68 182.29 L517.68 182.51 L518.68 182.73 L519.68 182.95 L520.69 183.17 L521.69 183.38 L522.69 183.59 L523.69 183.81 L524.69 184.02 L525.69 184.23 L526.69 184.44 L527.69 184.65 L528.69 184.86 L529.69 185.07 L530.69 185.28 L531.69 185.48 L532.69 185.68 L533.69 185.88 L534.69 186.07 L535.69 186.26 L536.69 186.45 L537.69 186.64 L538.69 186.83 L539.69 187.02 L540.69 187.22 L541.69 187.43 L542.69 187.64 L543.70 187.87 L544.70 188.10 L545.70 188.35 L546.70 188.60 L547.70 188.86 L548.70 189.13 L549.70 189.41 L550.70 189.70 L551.70 190.01 L552.70 190.33 L553.70 190.66 L554.70 191.00" fill="none" stroke="#000000" stroke-width="2.0" stroke-linejoin="round" stroke-dasharray="9.8 5.3" stroke-dashoffset="3.9" clip-path="url(#p4)"/>
<path d="M322.60 191.00 L323.60 190.26 L324.60 189.51 L325.60 188.77 L326.60 188.04 L327.60 187.30 L328.60 186.57 L329.60 185.84 L330.60 185.11 L331.60 184.39 L332.60 183.67 L333.60 182.95 L334.61 182.24 L335.61 181.53 L336.61 180.82 L337.61 180.11 L338.61 179.40 L339.61 178.70 L340.61 178.00 L341.61 177.30 L342.61 176.60 L343.61 175.91 L344.61 175.22 L345.61 174.53 L346.61 173.84 L347.61 173.16 L348.61 172.48 L349.61 171.80 L350.61 171.12 L351.61 170.45 L352.61 169.78 L353.61 169.12 L354.61 168.46 L355.61 167.81 L356.61 167.15 L357.62 166.50 L358.62 165.85 L359.62 165.20 L360.62 164.55 L361.62 163.90 L362.62 163.25 L363.62 162.60 L364.62 161.94 L365.62 161.28 L366.62 160.62 L367.62 159.95 L368.62 159.28 L369.62 158.59 L370.62 157.90 L371.62 157.21 L372.62 156.52 L373.62 155.83 L374.62 155.15 L375.62 154.47 L376.62 153.80 L377.62 153.13 L378.62 152.48 L379.62 151.84 L380.62 151.21 L381.63 150.60 L382.63 150.01 L383.63 149.43 L384.63 148.86 L385.63 148.29 L386.63 147.74 L387.63 147.20 L388.63 146.67 L389.63 146.16 L390.63 145.65 L391.63 145.17 L392.63 144.69 L393.63 144.23 L394.63 143.77 L395.63 143.33 L396.63 142.90 L397.63 142.49 L398.63 142.10 L399.63 141.73 L400.63 141.38 L401.63 141.04 L402.63 140.69 L403.63 140.36 L404.64 140.05 L405.64 139.75 L406.64 139.49 L407.64 139.26 L408.64 139.06 L409.64 138.90 L410.64 138.74 L411.64 138.59 L412.64 138.45 L413.64 138.31 L414.64 138.19 L415.64 138.09 L416.64 138.00 L417.64 137.94 L418.64 137.91 L419.64 137.90 L420.64 137.93 L421.64 137.99 L422.64 138.07 L423.64 138.16 L424.64 138.26 L425.64 138.38 L426.64 138.54 L427.65 138.75 L428.65 138.99 L429.65 139.25 L430.65 139.53 L431.65 139.82 L432.65 140.15 L433.65 140.52 L434.65 140.91 L435.65 141.34 L436.65 141.78 L437.65 142.25 L438.65 142.73 L439.65 143.22 L440.65 143.74 L441.65 144.28 L442.65 144.87 L443.65 145.48 L444.65 146.12 L445.65 146.78 L446.65 147.46 L447.65 148.16 L448.65 148.87 L449.65 149.61 L450.66 150.38 L451.66 151.18 L452.66 152.00 L453.66 152.84 L454.66 153.68 L455.66 154.53 L456.66 155.42 L457.66 156.33 L458.66 157.26 L459.66 158.19 L460.66 159.11 L461.66 160.00 L462.66 160.88 L463.66 161.76 L464.66 162.64 L465.66 163.50 L466.66 164.30 L467.66 165.02 L468.66 165.65 L469.66 166.24 L470.66 166.80 L471.66 167.33 L472.66 167.84 L473.67 168.33 L474.67 168.80 L475.67 169.25 L476.67 169.68 L477.67 170.11 L478.67 170.52 L479.67 170.93 L480.67 171.33 L481.67 171.72 L482.67 172.11 L483.67 172.50 L484.67 172.88 L485.67 173.25 L486.67 173.62 L487.67 173.98 L488.67 174.33 L489.67 174.68 L490.67 175.03 L491.67 175.37 L492.67 175.70 L493.67 176.03 L494.67 176.35 L495.67 176.67 L496.68 176.99 L497.68 177.30 L498.68 177.60 L499.68 177.90 L500.68 178.19 L501.68 178.48 L502.68 178.77 L503.68 179.05 L504.68 179.32 L505.68 179.59 L506.68 179.86 L507.68 180.12 L508.68 180.38 L509.68 180.63 L510.68 180.88 L511.68 181.12 L512.68 181.36 L513.68 181.60 L514.68 181.83 L515.68 182.06 L516.68 182.29 L517.68 182.51 L518.68 182.73 L519.68 182.95 L520.69 183.17 L521.69 183.38 L522.69 183.59 L523.69 183.81 L524.69 184.02 L525.69 184.23 L526.69 184.44 L527.69 184.65 L528.69 184.86 L529.69 185.07 L530.69 185.28 L531.69 185.48 L532.69 185.68 L533.69 185.88 L534.69 186.07 L535.69 186.26 L536.69 186.45 L537.69 186.64 L538.69 186.83 L539.69 187.02 L540.69 187.22 L541.69 187.43 L542.69 187.64 L543.70 187.87 L544.70 188.10 L545.70 188.35 L546.70 188.60 L547.70 188.86 L548.70 189.13 L549.70 189.41 L550.70 189.70 L551.70 190.01 L552.70 190.33 L553.70 190.66 L554.70 191.00" fill="none" stroke="#ff0000" stroke-width="2.0" stroke-linejoin="round" clip-path="url(#p4)"/>
<path d="M322.60 191.00 L323.60 190.22 L324.60 189.44 L325.60 188.66 L326.60 187.89 L327.60 187.12 L328.60 186.35 L329.60 185.58 L330.60 184.82 L331.60 184.07 L332.60 183.32 L333.60 182.57 L334.61 181.82 L335.61 181.08 L336.61 180.35 L337.61 179.61 L338.61 178.88 L339.61 178.16 L340.61 177.43 L341.61 176.71 L342.61 175.99 L343.61 175.27 L344.61 174.56 L345.61 173.85 L346.61 173.14 L347.61 172.43 L348.61 171.72 L349.61 171.01 L350.61 170.31 L351.61 169.61 L352.61 168.92 L353.61 168.23 L354.61 167.54 L355.61 166.85 L356.61 166.17 L357.62 165.49 L358.62 164.81 L359.62 164.12 L360.62 163.44 L361.62 162.76 L362.62 162.07 L363.62 161.39 L364.62 160.70 L365.62 160.00 L366.62 159.31 L367.62 158.60 L368.62 157.88 L369.62 157.15 L370.62 156.41 L371.62 155.68 L372.62 154.94 L373.62 154.20 L374.62 153.46 L375.62 152.73 L376.62 152.01 L377.62 151.30 L378.62 150.61 L379.62 149.93 L380.62 149.26 L381.63 148.62 L382.63 148.00 L383.63 147.39 L384.63 146.79 L385.63 146.20 L386.63 145.63 L387.63 145.07 L388.63 144.52 L389.63 143.99 L390.63 143.47 L391.63 142.97 L392.63 142.49 L393.63 142.02 L394.63 141.57 L395.63 141.13 L396.63 140.70 L397.63 140.29 L398.63 139.90 L399.63 139.53 L400.63 139.17 L401.63 138.81 L402.63 138.45 L403.63 138.10 L404.64 137.77 L405.64 137.48 L406.64 137.24 L407.64 137.05 L408.64 136.92 L409.64 136.80 L410.64 136.69 L411.64 136.59 L412.64 136.51 L413.64 136.45 L414.64 136.41 L415.64 136.40 L416.64 136.46 L417.64 136.59 L418.64 136.79 L419.64 137.02 L420.64 137.27 L421.64 137.51 L422.64 137.76 L423.64 138.03 L424.64 138.32 L425.64 138.65 L426.64 138.99 L427.65 139.35 L428.65 139.72 L429.65 140.11 L430.65 140.50 L431.65 140.90 L432.65 141.33 L433.65 141.78 L434.65 142.24 L435.65 142.73 L436.65 143.23 L437.65 143.74 L438.65 144.27 L439.65 144.81 L440.65 145.36 L441.65 145.93 L442.65 146.52 L443.65 147.13 L444.65 147.76 L445.65 148.40 L446.65 149.07 L447.65 149.76 L448.65 150.47 L449.65 151.22 L450.66 151.99 L451.66 152.80 L452.66 153.62 L453.66 154.45 L454.66 155.29 L455.66 156.13 L456.66 157.00 L457.66 157.90 L458.66 158.81 L459.66 159.72 L460.66 160.60 L461.66 161.43 L462.66 162.21 L463.66 162.98 L464.66 163.73 L465.66 164.45 L466.66 165.13 L467.66 165.75 L468.66 166.31 L469.66 166.85 L470.66 167.36 L471.66 167.85 L472.66 168.33 L473.67 168.78 L474.67 169.22 L475.67 169.65 L476.67 170.06 L477.67 170.46 L478.67 170.86 L479.67 171.24 L480.67 171.63 L481.67 172.00 L482.67 172.37 L483.67 172.74 L484.67 173.10 L485.67 173.46 L486.67 173.81 L487.67 174.15 L488.67 174.49 L489.67 174.83 L490.67 175.16 L491.67 175.49 L492.67 175.81 L493.67 176.12 L494.67 176.44 L495.67 176.74 L496.68 177.05 L497.68 177.35 L498.68 177.64 L499.68 177.93 L500.68 178.22 L501.68 178.50 L502.68 178.78 L503.68 179.06 L504.68 179.33 L505.68 179.59 L506.68 179.86 L507.68 180.12 L508.68 180.37 L509.68 180.62 L510.68 180.87 L511.68 181.11 L512.68 181.35 L513.68 181.58 L514.68 181.82 L515.68 182.05 L516.68 182.27 L517.68 182.50 L518.68 182.72 L519.68 182.94 L520.69 183.16 L521.69 183.37 L522.69 183.59 L523.69 183.80 L524.69 184.01 L525.69 184.23 L526.69 184.44 L527.69 184.65 L528.69 184.86 L529.69 185.07 L530.69 185.28 L531.69 185.48 L532.69 185.68 L533.69 185.88 L534.69 186.07 L535.69 186.26 L536.69 186.45 L537.69 186.64 L538.69 186.83 L539.69 187.02 L540.69 187.22 L541.69 187.43 L542.69 187.64 L543.70 187.87 L544.70 188.10 L545.70 188.35 L546.70 188.60 L547.70 188.86 L548.70 189.13 L549.70 189.41 L550.70 189.70 L551.70 190.01 L552.70 190.33 L553.70 190.66 L554.70 191.00" fill="none" stroke="#00ff00" stroke-width="2.0" stroke-linejoin="round" stroke-dasharray="10.5 5.5 2.6 5.5" stroke-dashoffset="17.1" clip-path="url(#p4)"/>
<path d="M322.60 191.00 L323.61 190.33 L324.61 189.66 L325.62 188.99 L326.62 188.31 L327.63 187.64 L328.63 186.97 L329.64 186.29 L330.65 185.62 L331.65 184.94 L332.66 184.27 L333.66 183.59 L334.67 182.91 L335.67 182.20 L336.68 181.47 L337.69 180.73 L338.69 180.02 L339.70 179.33 L340.70 178.68 L341.71 178.10 L342.72 177.60 L343.72 177.13 L344.73 176.69 L345.73 176.28 L346.74 175.89 L347.74 175.52 L348.75 175.14 L349.76 174.77 L350.76 174.39 L351.77 174.01 L352.77 173.63 L353.78 173.26 L354.78 172.89 L355.79 172.53 L356.80 172.17 L357.80 171.81 L358.81 171.46 L359.81 171.11 L360.82 170.76 L361.82 170.42 L362.83 170.09 L363.84 169.76 L364.84 169.43 L365.85 169.11 L366.85 168.80 L367.86 168.49 L368.86 168.19 L369.87 167.89 L370.88 167.60 L371.88 167.31 L372.89 167.03 L373.89 166.74 L374.90 166.46 L375.91 166.19 L376.91 165.91 L377.92 165.63 L378.92 165.35 L379.93 165.07 L380.93 164.79 L381.94 164.50 L382.95 164.22 L383.95 163.93 L384.96 163.66 L385.96 163.38 L386.97 163.11 L387.97 162.83 L388.98 162.56 L389.99 162.29 L390.99 162.02 L392.00 161.74 L393.00 161.46 L394.01 161.17 L395.01 160.88 L396.02 160.58 L397.03 160.27 L398.03 159.95 L399.04 159.62 L400.04 159.29 L401.05 158.94 L402.05 158.59 L403.06 158.23 L404.07 157.87 L405.07 157.49 L406.08 157.11 L407.08 156.71 L408.09 156.29 L409.09 155.85 L410.10 155.40 L411.11 154.92 L412.11 154.41 L413.12 153.88 L414.12 153.28 L415.13 152.59 L416.14 151.85 L417.14 151.05 L418.15 150.23 L419.15 149.39 L420.16 148.55 L421.16 147.73 L422.17 146.95 L423.18 146.21 L424.18 145.55 L425.19 144.98 L426.19 144.39 L427.20 143.75 L428.20 143.09 L429.21 142.40 L430.22 141.68 L431.22 140.94 L432.23 140.18 L433.23 139.38 L434.24 138.54 L435.24 137.67 L436.25 136.77 L437.26 135.86 L438.26 134.95 L439.27 134.01 L440.27 133.05 L441.28 132.07 L442.28 131.10 L443.29 130.15 L444.30 129.21 L445.30 128.27 L446.31 127.34 L447.31 126.39 L448.32 125.42 L449.33 124.42 L450.33 123.38 L451.34 122.33 L452.34 121.30 L453.35 120.29 L454.35 119.29 L455.36 118.49 L456.37 117.78 L457.37 117.18 L458.38 116.75 L459.38 116.39 L460.39 116.07 L461.39 115.83 L462.40 115.70 L463.43 116.05 L464.45 116.60 L465.48 117.29 L466.50 118.11 L467.53 119.22 L468.56 120.58 L469.58 122.31 L470.61 124.40 L471.63 126.76 L472.66 129.41 L473.69 132.33 L474.71 135.52 L475.74 139.03 L476.77 142.95 L477.79 147.24 L478.82 151.88 L479.84 157.18 L480.87 163.06 L481.90 168.93 L482.92 174.48 L483.95 179.97 L484.97 185.48 L486.00 191.00" fill="none" stroke="#0000ff" stroke-width="2.0" stroke-linejoin="round" stroke-dasharray="9.5 5 2.6 5 2.6 5" stroke-dashoffset="27.2" clip-path="url(#p4)"/>
<path d="M322.60 307.50 L323.60 307.36 L324.61 307.22 L325.61 307.08 L326.61 306.94 L327.62 306.81 L328.62 306.67 L329.62 306.54 L330.62 306.40 L331.63 306.27 L332.63 306.14 L333.63 306.01 L334.64 305.88 L335.64 305.75 L336.64 305.63 L337.65 305.50 L338.65 305.38 L339.65 305.26 L340.65 305.14 L341.66 305.02 L342.66 304.90 L343.66 304.77 L344.67 304.65 L345.67 304.52 L346.67 304.39 L347.68 304.26 L348.68 304.13 L349.68 304.00 L350.68 303.87 L351.69 303.74 L352.69 303.60 L353.69 303.47 L354.70 303.34 L355.70 303.20 L356.70 303.07 L357.71 302.94 L358.71 302.80 L359.71 302.67 L360.71 302.53 L361.72 302.39 L362.72 302.25 L363.72 302.11 L364.73 301.98 L365.73 301.84 L366.73 301.71 L367.74 301.58 L368.74 301.45 L369.74 301.33 L370.74 301.21 L371.75 301.09 L372.75 300.98 L373.75 300.87 L374.76 300.76 L375.76 300.65 L376.76 300.55 L377.77 300.44 L378.77 300.34 L379.77 300.23 L380.77 300.13 L381.78 300.03 L382.78 299.93 L383.78 299.82 L384.79 299.72 L385.79 299.61 L386.79 299.51 L387.80 299.40 L388.80 299.30 L389.80 299.19 L390.80 299.09 L391.81 298.99 L392.81 298.88 L393.81 298.78 L394.82 298.68 L395.82 298.57 L396.82 298.47 L397.83 298.37 L398.83 298.27 L399.83 298.17 L400.83 298.07 L401.84 297.97 L402.84 297.87 L403.84 297.77 L404.85 297.68 L405.85 297.58 L406.85 297.48 L407.86 297.39 L408.86 297.29 L409.86 297.20 L410.86 297.10 L411.87 297.00 L412.87 296.91 L413.87 296.81 L414.88 296.72 L415.88 296.63 L416.88 296.53 L417.89 296.43 L418.89 296.33 L419.89 296.23 L420.89 296.12 L421.90 296.01 L422.90 295.89 L423.90 295.78 L424.91 295.66 L425.91 295.54 L426.91 295.42 L427.92 295.29 L428.92 295.16 L429.92 295.03 L430.92 294.90 L431.93 294.77 L432.93 294.63 L433.93 294.49 L434.94 294.35 L435.94 294.21 L436.94 294.06 L437.95 293.91 L438.95 293.76 L439.95 293.60 L440.95 293.44 L441.96 293.29 L442.96 293.13 L443.96 292.97 L444.97 292.81 L445.97 292.65 L446.97 292.49 L447.98 292.32 L448.98 292.14 L449.98 291.97 L450.98 291.78 L451.99 291.59 L452.99 291.39 L453.99 291.18 L455.00 290.96 L456.00 290.73 L457.00 290.49 L458.01 290.24 L459.01 289.98 L460.01 289.70 L461.01 289.39 L462.02 289.02 L463.02 288.60 L464.02 288.15 L465.03 287.67 L466.03 287.18 L467.03 286.68 L468.04 286.19 L469.04 285.72 L470.04 285.27 L471.04 284.85 L472.05 284.43 L473.05 284.01 L474.05 283.60 L475.06 283.18 L476.06 282.77 L477.06 282.35 L478.07 281.93 L479.07 281.50 L480.07 281.07 L481.07 280.63 L482.08 280.19 L483.08 279.74 L484.08 279.30 L485.09 278.84 L486.09 278.38 L487.09 277.91 L488.10 277.43 L489.10 276.94 L490.10 276.43 L491.10 275.91 L492.11 275.38 L493.11 274.83 L494.11 274.27 L495.12 273.70 L496.12 273.12 L497.12 272.52 L498.13 271.91 L499.13 271.29 L500.13 270.65 L501.13 270.00 L502.14 269.33 L503.14 268.64 L504.14 267.94 L505.15 267.22 L506.15 266.49 L507.15 265.74 L508.16 264.98 L509.16 264.20 L510.16 263.41 L511.16 262.61 L512.17 261.80 L513.17 260.97 L514.17 260.13 L515.18 259.26 L516.18 258.38 L517.18 257.46 L518.19 256.51 L519.19 255.53 L520.19 254.51 L521.19 253.47 L522.20 252.40 L523.20 251.29 L524.20 250.13 L525.21 248.89 L526.21 247.58 L527.21 246.16 L528.22 244.63 L529.22 242.83 L530.22 240.77 L531.22 238.56 L532.23 236.30 L533.23 234.09 L534.23 232.03 L535.24 229.95 L536.24 227.87 L537.24 225.93 L538.25 224.26 L539.25 222.82 L540.25 221.37 L541.25 220.19 L542.26 219.59 L543.26 219.62 L544.26 219.89 L545.27 220.36 L546.27 222.08 L547.27 225.93 L548.28 231.71 L549.28 239.30 L550.28 247.55 L551.28 256.60 L552.29 266.66 L553.29 276.64 L554.29 286.50 L555.30 296.64 L556.30 307.50" fill="none" stroke="#000000" stroke-width="2.0" stroke-linejoin="round" stroke-dasharray="9.8 5.3" stroke-dashoffset="3.9" clip-path="url(#p5)"/>
<path d="M322.60 307.50 L323.60 307.43 L324.61 307.36 L325.61 307.29 L326.62 307.23 L327.62 307.16 L328.62 307.09 L329.63 307.03 L330.63 306.96 L331.64 306.90 L332.64 306.84 L333.64 306.77 L334.65 306.71 L335.65 306.65 L336.66 306.59 L337.66 306.53 L338.66 306.48 L339.67 306.42 L340.67 306.37 L341.68 306.31 L342.68 306.25 L343.68 306.19 L344.69 306.13 L345.69 306.07 L346.70 306.00 L347.70 305.93 L348.70 305.85 L349.71 305.78 L350.71 305.70 L351.72 305.62 L352.72 305.55 L353.72 305.47 L354.73 305.39 L355.73 305.31 L356.74 305.23 L357.74 305.15 L358.74 305.07 L359.75 304.99 L360.75 304.91 L361.76 304.83 L362.76 304.75 L363.76 304.67 L364.77 304.59 L365.77 304.51 L366.78 304.43 L367.78 304.35 L368.78 304.28 L369.79 304.21 L370.79 304.14 L371.80 304.08 L372.80 304.02 L373.80 303.96 L374.81 303.90 L375.81 303.84 L376.82 303.79 L377.82 303.73 L378.82 303.68 L379.83 303.62 L380.83 303.57 L381.84 303.51 L382.84 303.45 L383.84 303.39 L384.85 303.33 L385.85 303.26 L386.86 303.20 L387.86 303.13 L388.86 303.06 L389.87 302.99 L390.87 302.92 L391.88 302.85 L392.88 302.78 L393.88 302.71 L394.89 302.63 L395.89 302.56 L396.90 302.48 L397.90 302.41 L398.90 302.33 L399.91 302.26 L400.91 302.18 L401.92 302.10 L402.92 302.02 L403.92 301.94 L404.93 301.86 L405.93 301.78 L406.94 301.70 L407.94 301.61 L408.94 301.53 L409.95 301.44 L410.95 301.36 L411.96 301.27 L412.96 301.19 L413.96 301.10 L414.97 301.01 L415.97 300.91 L416.98 300.82 L417.98 300.73 L418.98 300.65 L419.99 300.56 L420.99 300.48 L422.00 300.40 L423.00 300.32 L424.00 300.25 L425.01 300.18 L426.01 300.11 L427.02 300.04 L428.02 299.97 L429.02 299.90 L430.03 299.83 L431.03 299.76 L432.04 299.69 L433.04 299.61 L434.04 299.54 L435.05 299.45 L436.05 299.37 L437.06 299.28 L438.06 299.19 L439.06 299.09 L440.07 298.99 L441.07 298.88 L442.08 298.76 L443.08 298.63 L444.08 298.50 L445.09 298.36 L446.09 298.21 L447.10 298.06 L448.10 297.90 L449.10 297.74 L450.11 297.57 L451.11 297.39 L452.12 297.22 L453.12 297.04 L454.12 296.85 L455.13 296.67 L456.13 296.48 L457.14 296.29 L458.14 296.09 L459.14 295.90 L460.15 295.71 L461.15 295.51 L462.16 295.31 L463.16 295.10 L464.16 294.89 L465.17 294.68 L466.17 294.46 L467.18 294.23 L468.18 294.00 L469.18 293.77 L470.19 293.53 L471.19 293.29 L472.20 293.04 L473.20 292.79 L474.20 292.53 L475.21 292.27 L476.21 292.00 L477.22 291.73 L478.22 291.46 L479.22 291.18 L480.23 290.89 L481.23 290.60 L482.24 290.30 L483.24 289.99 L484.24 289.67 L485.25 289.34 L486.25 289.01 L487.26 288.67 L488.26 288.32 L489.26 287.97 L490.27 287.61 L491.27 287.24 L492.28 286.87 L493.28 286.49 L494.28 286.11 L495.29 285.72 L496.29 285.32 L497.30 284.92 L498.30 284.52 L499.30 284.10 L500.31 283.69 L501.31 283.27 L502.32 282.83 L503.32 282.39 L504.32 281.93 L505.33 281.46 L506.33 280.97 L507.34 280.47 L508.34 279.95 L509.34 279.42 L510.35 278.87 L511.35 278.30 L512.36 277.73 L513.36 277.13 L514.36 276.51 L515.37 275.87 L516.37 275.20 L517.38 274.49 L518.38 273.75 L519.38 272.98 L520.39 272.15 L521.39 271.27 L522.40 270.32 L523.40 269.30 L524.40 268.23 L525.41 267.09 L526.41 265.91 L527.42 264.67 L528.42 263.38 L529.42 261.98 L530.43 260.48 L531.43 258.89 L532.44 257.21 L533.44 255.46 L534.44 253.65 L535.45 251.83 L536.45 249.88 L537.46 247.66 L538.46 245.03 L539.46 241.69 L540.47 237.60 L541.47 232.88 L542.48 227.69 L543.48 222.15 L544.48 215.82 L545.49 208.42 L546.49 199.88 L547.50 189.40 L548.50 176.00" fill="none" stroke="#ff0000" stroke-width="2.0" stroke-linejoin="round" clip-path="url(#p5)"/>
<path d="M555.40 176.00 L556.40 307.50" fill="none" stroke="#ff0000" stroke-width="2.0" stroke-linejoin="round" clip-path="url(#p5)"/>
<path d="M322.60 307.50 L323.60 306.78 L324.60 306.10 L325.60 305.45 L326.60 304.84 L327.60 304.27 L328.60 303.75 L329.60 303.28 L330.60 302.86 L331.60 302.50 L332.60 302.17 L333.60 301.88 L334.60 301.61 L335.60 301.34 L336.60 301.07 L337.60 300.79 L338.60 300.50 L339.60 300.19 L340.60 299.88 L341.60 299.57 L342.60 299.25 L343.60 298.93 L344.60 298.61 L345.60 298.29 L346.60 297.97 L347.60 297.65 L348.60 297.34 L349.60 297.02 L350.60 296.72 L351.60 296.41 L352.60 296.11 L353.60 295.82 L354.60 295.53 L355.60 295.25 L356.60 294.98 L357.60 294.72 L358.60 294.47 L359.60 294.23 L360.60 293.99 L361.60 293.76 L362.60 293.53 L363.60 293.30 L364.60 293.08 L365.60 292.87 L366.60 292.65 L367.60 292.44 L368.60 292.23 L369.60 292.03 L370.60 291.82 L371.60 291.62 L372.60 291.42 L373.60 291.22 L374.60 291.02 L375.60 290.82 L376.60 290.62 L377.60 290.42 L378.60 290.22 L379.60 290.01 L380.60 289.80 L381.60 289.59 L382.60 289.38 L383.60 289.17 L384.60 288.96 L385.60 288.75 L386.60 288.55 L387.60 288.35 L388.60 288.16 L389.60 287.98 L390.60 287.81 L391.60 287.65 L392.60 287.50 L393.60 287.36 L394.60 287.23 L395.60 287.11 L396.60 286.99 L397.60 286.87 L398.60 286.76 L399.60 286.65 L400.60 286.55 L401.60 286.45 L402.60 286.35 L403.60 286.26 L404.60 286.16 L405.60 286.07 L406.60 285.98 L407.60 285.90 L408.60 285.81 L409.60 285.72 L410.60 285.63 L411.60 285.54 L412.60 285.45 L413.60 285.36 L414.60 285.27 L415.60 285.18 L416.60 285.08 L417.60 284.98 L418.60 284.88 L419.60 284.78 L420.60 284.68 L421.60 284.58 L422.60 284.48 L423.60 284.38 L424.60 284.29 L425.60 284.19 L426.60 284.09 L427.60 283.99 L428.60 283.89 L429.60 283.79 L430.60 283.69 L431.60 283.59 L432.60 283.48 L433.60 283.37 L434.60 283.26 L435.60 283.14 L436.60 283.03 L437.60 282.90 L438.60 282.78 L439.60 282.65 L440.60 282.51 L441.60 282.37 L442.60 282.24 L443.60 282.10 L444.60 281.95 L445.60 281.81 L446.60 281.66 L447.60 281.50 L448.60 281.34 L449.60 281.18 L450.60 281.00 L451.60 280.82 L452.60 280.64 L453.60 280.44 L454.60 280.24 L455.60 280.02 L456.60 279.80 L457.60 279.56 L458.60 279.31 L459.60 279.06 L460.60 278.77 L461.60 278.43 L462.60 278.03 L463.60 277.58 L464.60 277.11 L465.60 276.61 L466.60 276.11 L467.60 275.62 L468.60 275.15 L469.60 274.70 L470.60 274.29 L471.60 273.90 L472.60 273.51 L473.60 273.12 L474.60 272.74 L475.60 272.37 L476.60 272.00 L477.60 271.64 L478.60 271.27 L479.60 270.91 L480.60 270.55 L481.60 270.20 L482.60 269.84 L483.60 269.48 L484.60 269.14 L485.60 268.79 L486.60 268.45 L487.60 268.10 L488.60 267.77 L489.60 267.43 L490.60 267.09 L491.60 266.76 L492.60 266.42 L493.60 266.08 L494.60 265.75 L495.60 265.41 L496.60 265.07 L497.60 264.73 L498.60 264.38 L499.60 264.03 L500.60 263.68 L501.60 263.33 L502.60 262.98 L503.60 262.63 L504.60 262.27 L505.60 261.92 L506.60 261.55 L507.60 261.19 L508.60 260.82 L509.60 260.44 L510.60 260.05 L511.60 259.62 L512.60 259.18 L513.60 258.72 L514.60 258.25 L515.60 257.80 L516.60 257.36 L517.60 256.95 L518.60 256.57 L519.60 256.24 L520.60 255.96 L521.60 255.74 L522.60 255.54 L523.60 255.35 L524.60 255.16 L525.60 254.96 L526.60 254.71 L527.60 254.41 L528.60 254.02 L529.60 253.58 L530.60 253.16 L531.60 252.77 L532.60 252.38 L533.60 252.02 L534.60 251.71 L535.60 251.50 L536.60 251.98 L537.60 252.92 L538.60 254.32 L539.60 255.68 L540.60 257.06 L541.60 258.62 L542.60 260.51 L543.60 262.86 L544.60 265.59 L545.60 268.61 L546.60 271.82 L547.60 275.17 L548.60 278.90 L549.60 282.95 L550.60 287.16 L551.60 291.36 L552.60 295.40 L553.60 299.38 L554.60 303.39 L555.60 307.50" fill="none" stroke="#00ff00" stroke-width="2.0" stroke-linejoin="round" stroke-dasharray="10.5 5.5 2.6 5.5" stroke-dashoffset="17.1" clip-path="url(#p5)"/>
<path d="M322.60 307.50 L323.60 305.98 L324.61 304.47 L325.61 302.97 L326.61 301.48 L327.62 300.00 L328.62 298.53 L329.62 297.07 L330.62 295.62 L331.63 294.18 L332.63 292.75 L333.63 291.33 L334.64 289.91 L335.64 288.51 L336.64 287.12 L337.65 285.73 L338.65 284.35 L339.65 282.96 L340.66 281.57 L341.66 280.19 L342.66 278.82 L343.66 277.48 L344.67 276.17 L345.67 274.91 L346.67 273.69 L347.68 272.51 L348.68 271.36 L349.68 270.23 L350.69 269.12 L351.69 268.03 L352.69 266.96 L353.70 265.90 L354.70 264.84 L355.70 263.79 L356.71 262.75 L357.71 261.71 L358.71 260.68 L359.71 259.67 L360.72 258.66 L361.72 257.65 L362.72 256.66 L363.73 255.68 L364.73 254.70 L365.73 253.74 L366.74 252.78 L367.74 251.83 L368.74 250.89 L369.75 249.94 L370.75 248.99 L371.75 248.03 L372.75 247.08 L373.76 246.14 L374.76 245.21 L375.76 244.31 L376.77 243.43 L377.77 242.58 L378.77 241.76 L379.78 240.98 L380.78 240.24 L381.78 239.55 L382.79 238.87 L383.79 238.23 L384.79 237.60 L385.79 236.99 L386.80 236.40 L387.80 235.83 L388.80 235.26 L389.81 234.71 L390.81 234.16 L391.81 233.61 L392.82 233.06 L393.82 232.52 L394.82 231.97 L395.83 231.43 L396.83 230.90 L397.83 230.37 L398.84 229.85 L399.84 229.33 L400.84 228.83 L401.84 228.33 L402.85 227.85 L403.85 227.38 L404.85 226.92 L405.86 226.48 L406.86 226.05 L407.86 225.65 L408.87 225.27 L409.87 224.89 L410.87 224.51 L411.88 224.14 L412.88 223.75 L413.88 223.35 L414.88 222.93 L415.89 222.50 L416.89 222.06 L417.89 221.61 L418.90 221.16 L419.90 220.70 L420.90 221.80 L421.91 222.93 L422.91 224.09 L423.92 225.28 L424.92 226.50 L425.93 227.75 L426.93 229.03 L427.94 230.35 L428.94 231.74 L429.94 233.25 L430.95 234.71 L431.95 236.00 L432.96 237.13 L433.96 238.15 L434.97 239.12 L435.97 240.08 L436.98 241.07 L437.98 242.14 L438.99 243.32 L439.99 244.61 L440.99 245.94 L442.00 247.25 L443.00 248.49 L444.01 249.71 L445.01 250.92 L446.02 252.14 L447.02 253.37 L448.03 254.64 L449.03 255.92 L450.03 257.18 L451.04 258.41 L452.04 259.60 L453.05 260.77 L454.05 261.92 L455.06 263.09 L456.06 264.27 L457.07 265.49 L458.07 266.74 L459.07 268.01 L460.08 269.27 L461.08 270.53 L462.09 271.77 L463.09 273.00 L464.10 274.24 L465.10 275.48 L466.11 276.73 L467.11 278.01 L468.11 279.32 L469.12 280.65 L470.12 282.00 L471.13 283.37 L472.13 284.76 L473.14 286.16 L474.14 287.58 L475.15 289.01 L476.15 290.46 L477.16 291.92 L478.16 293.39 L479.16 294.87 L480.17 296.37 L481.17 297.89 L482.18 299.42 L483.18 300.98 L484.19 302.56 L485.19 304.16 L486.20 305.79 L487.20 307.50" fill="none" stroke="#0000ff" stroke-width="2.0" stroke-linejoin="round" stroke-dasharray="9.5 5 2.6 5 2.6 5" stroke-dashoffset="23.4" clip-path="url(#p5)"/>
<path d="M322.60 423.40 L323.60 423.27 L324.60 423.14 L325.61 423.01 L326.61 422.88 L327.61 422.76 L328.61 422.64 L329.62 422.52 L330.62 422.40 L331.62 422.28 L332.62 422.17 L333.62 422.05 L334.63 421.94 L335.63 421.83 L336.63 421.73 L337.63 421.63 L338.63 421.53 L339.64 421.43 L340.64 421.33 L341.64 421.23 L342.64 421.14 L343.65 421.04 L344.65 420.94 L345.65 420.83 L346.65 420.73 L347.65 420.63 L348.66 420.52 L349.66 420.42 L350.66 420.32 L351.66 420.21 L352.66 420.11 L353.67 420.00 L354.67 419.90 L355.67 419.79 L356.67 419.68 L357.68 419.57 L358.68 419.45 L359.68 419.34 L360.68 419.22 L361.68 419.10 L362.69 418.98 L363.69 418.85 L364.69 418.73 L365.69 418.60 L366.69 418.47 L367.70 418.34 L368.70 418.21 L369.70 418.08 L370.70 417.95 L371.71 417.81 L372.71 417.68 L373.71 417.54 L374.71 417.41 L375.71 417.27 L376.72 417.14 L377.72 417.01 L378.72 416.87 L379.72 416.74 L380.72 416.60 L381.73 416.47 L382.73 416.34 L383.73 416.20 L384.73 416.07 L385.74 415.93 L386.74 415.80 L387.74 415.66 L388.74 415.53 L389.74 415.39 L390.75 415.26 L391.75 415.12 L392.75 414.98 L393.75 414.84 L394.75 414.70 L395.76 414.56 L396.76 414.42 L397.76 414.28 L398.76 414.14 L399.77 413.99 L400.77 413.85 L401.77 413.70 L402.77 413.56 L403.77 413.41 L404.78 413.27 L405.78 413.12 L406.78 412.97 L407.78 412.82 L408.78 412.67 L409.79 412.52 L410.79 412.37 L411.79 412.22 L412.79 412.07 L413.80 411.91 L414.80 411.76 L415.80 411.60 L416.80 411.45 L417.80 411.29 L418.81 411.14 L419.81 410.98 L420.81 410.83 L421.81 410.68 L422.81 410.52 L423.82 410.37 L424.82 410.21 L425.82 410.06 L426.82 409.90 L427.83 409.75 L428.83 409.59 L429.83 409.44 L430.83 409.29 L431.83 409.14 L432.84 408.98 L433.84 408.84 L434.84 408.69 L435.84 408.55 L436.84 408.41 L437.85 408.27 L438.85 408.13 L439.85 408.00 L440.85 407.86 L441.86 407.71 L442.86 407.57 L443.86 407.41 L444.86 407.25 L445.86 407.09 L446.87 406.92 L447.87 406.75 L448.87 406.58 L449.87 406.40 L450.87 406.22 L451.88 406.04 L452.88 405.84 L453.88 405.64 L454.88 405.42 L455.89 405.19 L456.89 404.95 L457.89 404.68 L458.89 404.39 L459.89 404.04 L460.90 403.65 L461.90 403.23 L462.90 402.81 L463.90 402.39 L464.90 402.01 L465.91 401.63 L466.91 401.26 L467.91 400.88 L468.91 400.51 L469.92 400.13 L470.92 399.75 L471.92 399.37 L472.92 398.98 L473.92 398.60 L474.93 398.21 L475.93 397.82 L476.93 397.43 L477.93 397.04 L478.93 396.65 L479.94 396.26 L480.94 395.87 L481.94 395.47 L482.94 395.08 L483.95 394.69 L484.95 394.30 L485.95 393.91 L486.95 393.52 L487.95 393.13 L488.96 392.72 L489.96 392.31 L490.96 391.87 L491.96 391.42 L492.96 390.96 L493.97 390.48 L494.97 389.99 L495.97 389.49 L496.97 388.97 L497.98 388.43 L498.98 387.88 L499.98 387.29 L500.98 386.67 L501.98 386.04 L502.99 385.40 L503.99 384.76 L504.99 384.12 L505.99 383.48 L506.99 382.83 L508.00 382.16 L509.00 381.46 L510.00 380.72 L511.00 379.94 L512.01 379.07 L513.01 378.14 L514.01 377.18 L515.01 376.20 L516.01 375.23 L517.02 374.25 L518.02 373.25 L519.02 372.20 L520.02 371.10 L521.02 369.93 L522.03 368.66 L523.03 367.25 L524.03 365.76 L525.03 364.23 L526.04 362.68 L527.04 361.09 L528.04 359.42 L529.04 357.67 L530.04 355.82 L531.05 353.75 L532.05 351.51 L533.05 349.25 L534.05 346.98 L535.05 344.53 L536.06 342.06 L537.06 339.76 L538.06 337.81 L539.06 336.36 L540.07 335.07 L541.07 333.92 L542.07 333.13 L543.07 332.92 L544.07 333.60 L545.08 335.09 L546.08 337.14 L547.08 341.62 L548.08 348.24 L549.08 356.32 L550.09 366.92 L551.09 377.51 L552.09 387.89 L553.09 397.89 L554.10 406.25 L555.10 413.54 L556.10 423.40" fill="none" stroke="#000000" stroke-width="2.0" stroke-linejoin="round" stroke-dasharray="9.8 5.3" stroke-dashoffset="3.9" clip-path="url(#p6)"/>
<path d="M322.60 423.40 L323.60 423.36 L324.61 423.32 L325.61 423.26 L326.61 423.19 L327.61 423.11 L328.62 423.03 L329.62 422.94 L330.62 422.84 L331.62 422.72 L332.63 422.58 L333.63 422.42 L334.63 422.25 L335.63 422.07 L336.64 421.88 L337.64 421.68 L338.64 421.48 L339.64 421.29 L340.65 421.09 L341.65 420.90 L342.65 420.73 L343.65 420.55 L344.66 420.38 L345.66 420.22 L346.66 420.05 L347.66 419.88 L348.67 419.71 L349.67 419.54 L350.67 419.37 L351.67 419.20 L352.68 419.03 L353.68 418.86 L354.68 418.69 L355.68 418.52 L356.69 418.34 L357.69 418.16 L358.69 417.99 L359.70 417.81 L360.70 417.63 L361.70 417.45 L362.70 417.27 L363.71 417.09 L364.71 416.92 L365.71 416.74 L366.71 416.56 L367.72 416.38 L368.72 416.20 L369.72 416.03 L370.72 415.85 L371.73 415.68 L372.73 415.50 L373.73 415.33 L374.73 415.15 L375.74 414.98 L376.74 414.80 L377.74 414.62 L378.74 414.43 L379.75 414.25 L380.75 414.06 L381.75 413.86 L382.75 413.66 L383.76 413.46 L384.76 413.25 L385.76 413.04 L386.76 412.84 L387.77 412.64 L388.77 412.44 L389.77 412.24 L390.78 412.05 L391.78 411.87 L392.78 411.68 L393.78 411.50 L394.79 411.32 L395.79 411.14 L396.79 410.97 L397.79 410.79 L398.80 410.62 L399.80 410.44 L400.80 410.27 L401.80 410.10 L402.81 409.93 L403.81 409.76 L404.81 409.60 L405.81 409.44 L406.82 409.28 L407.82 409.12 L408.82 408.96 L409.82 408.80 L410.83 408.64 L411.83 408.48 L412.83 408.32 L413.83 408.16 L414.84 407.99 L415.84 407.83 L416.84 407.66 L417.84 407.49 L418.85 407.32 L419.85 407.15 L420.85 406.98 L421.85 406.80 L422.86 406.63 L423.86 406.46 L424.86 406.29 L425.87 406.12 L426.87 405.95 L427.87 405.79 L428.87 405.63 L429.88 405.46 L430.88 405.30 L431.88 405.14 L432.88 404.98 L433.89 404.82 L434.89 404.66 L435.89 404.50 L436.89 404.34 L437.90 404.18 L438.90 404.02 L439.90 403.85 L440.90 403.69 L441.91 403.53 L442.91 403.38 L443.91 403.23 L444.91 403.07 L445.92 402.92 L446.92 402.76 L447.92 402.59 L448.92 402.41 L449.93 402.23 L450.93 402.03 L451.93 401.81 L452.93 401.58 L453.94 401.33 L454.94 401.06 L455.94 400.76 L456.95 400.44 L457.95 400.09 L458.95 399.70 L459.95 399.23 L460.96 398.71 L461.96 398.16 L462.96 397.62 L463.96 397.11 L464.97 396.64 L465.97 396.20 L466.97 395.77 L467.97 395.35 L468.98 394.93 L469.98 394.51 L470.98 394.09 L471.98 393.67 L472.99 393.25 L473.99 392.84 L474.99 392.42 L475.99 392.00 L477.00 391.59 L478.00 391.18 L479.00 390.78 L480.00 390.37 L481.01 389.96 L482.01 389.54 L483.01 389.13 L484.01 388.70 L485.02 388.27 L486.02 387.83 L487.02 387.38 L488.02 386.92 L489.03 386.46 L490.03 385.98 L491.03 385.50 L492.04 385.02 L493.04 384.52 L494.04 384.02 L495.04 383.51 L496.05 382.99 L497.05 382.47 L498.05 381.94 L499.05 381.40 L500.06 380.85 L501.06 380.29 L502.06 379.71 L503.06 379.13 L504.07 378.53 L505.07 377.93 L506.07 377.32 L507.07 376.70 L508.08 376.07 L509.08 375.44 L510.08 374.81 L511.08 374.18 L512.09 373.55 L513.09 372.90 L514.09 372.24 L515.09 371.58 L516.10 370.90 L517.10 370.23 L518.10 369.55 L519.10 368.88 L520.11 368.22 L521.11 367.56 L522.11 366.93 L523.12 366.29 L524.12 365.65 L525.12 365.03 L526.12 364.42 L527.13 363.85 L528.13 363.34 L529.13 362.82 L530.13 362.35 L531.14 361.99 L532.14 361.78 L533.14 361.63 L534.14 361.62 L535.15 361.83 L536.15 362.27 L537.15 362.90 L538.15 363.67 L539.16 364.56 L540.16 366.03 L541.16 368.45 L542.16 371.52 L543.17 374.90 L544.17 378.30 L545.17 381.88 L546.17 385.93 L547.18 390.20 L548.18 394.45 L549.18 398.43 L550.18 402.08 L551.19 405.58 L552.19 409.00 L553.19 412.44 L554.19 415.98 L555.20 419.65 L556.20 423.40" fill="none" stroke="#ff0000" stroke-width="2.0" stroke-linejoin="round" clip-path="url(#p6)"/>
<path d="M322.60 423.40 L323.60 423.23 L324.61 423.05 L325.61 422.85 L326.62 422.63 L327.62 422.39 L328.62 422.14 L329.63 421.88 L330.63 421.60 L331.64 421.31 L332.64 420.98 L333.64 420.62 L334.65 420.23 L335.65 419.82 L336.65 419.40 L337.66 418.96 L338.66 418.52 L339.67 418.09 L340.67 417.66 L341.67 417.24 L342.68 416.85 L343.68 416.47 L344.69 416.09 L345.69 415.71 L346.69 415.34 L347.70 414.97 L348.70 414.60 L349.71 414.23 L350.71 413.87 L351.71 413.51 L352.72 413.16 L353.72 412.81 L354.72 412.46 L355.73 412.12 L356.73 411.77 L357.74 411.43 L358.74 411.08 L359.74 410.74 L360.75 410.40 L361.75 410.07 L362.76 409.74 L363.76 409.42 L364.76 409.11 L365.77 408.81 L366.77 408.53 L367.78 408.25 L368.78 407.99 L369.78 407.75 L370.79 407.51 L371.79 407.28 L372.79 407.05 L373.80 406.83 L374.80 406.62 L375.81 406.40 L376.81 406.19 L377.81 405.98 L378.82 405.76 L379.82 405.54 L380.83 405.31 L381.83 405.09 L382.83 404.85 L383.84 404.62 L384.84 404.39 L385.85 404.16 L386.85 403.94 L387.85 403.73 L388.86 403.52 L389.86 403.33 L390.86 403.14 L391.87 402.96 L392.87 402.79 L393.88 402.62 L394.88 402.46 L395.88 402.30 L396.89 402.14 L397.89 401.98 L398.90 401.83 L399.90 401.68 L400.90 401.53 L401.91 401.38 L402.91 401.22 L403.92 401.07 L404.92 400.92 L405.92 400.77 L406.93 400.62 L407.93 400.48 L408.94 400.33 L409.94 400.19 L410.94 400.05 L411.95 399.90 L412.95 399.76 L413.95 399.62 L414.96 399.48 L415.96 399.34 L416.97 399.21 L417.97 399.08 L418.97 398.95 L419.98 398.82 L420.98 398.69 L421.99 398.56 L422.99 398.43 L423.99 398.29 L425.00 398.14 L426.00 397.99 L427.01 397.83 L428.01 397.66 L429.01 397.49 L430.02 397.31 L431.02 397.12 L432.02 396.92 L433.03 396.71 L434.03 396.50 L435.04 396.28 L436.04 396.06 L437.04 395.83 L438.05 395.59 L439.05 395.34 L440.06 395.08 L441.06 394.80 L442.06 394.49 L443.07 394.17 L444.07 393.85 L445.08 393.53 L446.08 393.22 L447.08 392.92 L448.09 392.62 L449.09 392.33 L450.09 392.04 L451.10 391.74 L452.10 391.43 L453.11 391.10 L454.11 390.76 L455.11 390.40 L456.12 390.02 L457.12 389.63 L458.13 389.21 L459.13 388.77 L460.13 388.28 L461.14 387.73 L462.14 387.12 L463.15 386.47 L464.15 385.80 L465.15 385.12 L466.16 384.46 L467.16 383.81 L468.16 383.15 L469.17 382.49 L470.17 381.82 L471.18 381.15 L472.18 380.47 L473.18 379.79 L474.19 379.11 L475.19 378.44 L476.20 377.76 L477.20 377.09 L478.20 376.42 L479.21 375.74 L480.21 375.06 L481.22 374.38 L482.22 373.68 L483.22 372.97 L484.23 372.25 L485.23 371.51 L486.24 370.75 L487.24 369.99 L488.24 369.21 L489.25 368.41 L490.25 367.61 L491.25 366.79 L492.26 365.96 L493.26 365.12 L494.27 364.26 L495.27 363.38 L496.27 362.49 L497.28 361.58 L498.28 360.66 L499.29 359.72 L500.29 358.78 L501.29 357.82 L502.30 356.85 L503.30 355.86 L504.31 354.85 L505.31 353.83 L506.31 352.81 L507.32 351.79 L508.32 350.77 L509.32 349.77 L510.33 348.79 L511.33 347.81 L512.34 346.85 L513.34 345.88 L514.34 344.92 L515.35 343.94 L516.35 342.95 L517.36 341.92 L518.36 340.79 L519.36 339.80 L520.37 339.11 L521.37 338.51 L522.38 338.03 L523.38 337.67 L524.38 337.34 L525.39 337.05 L526.39 336.85 L527.39 336.81 L528.40 337.10 L529.40 337.74 L530.41 338.61 L531.41 339.61 L532.41 340.97 L533.42 342.95 L534.42 345.29 L535.43 347.78 L536.43 350.67 L537.43 353.90 L538.44 357.29 L539.44 360.70 L540.45 364.22 L541.45 367.88 L542.45 371.72 L543.46 375.76 L544.46 380.07 L545.46 384.61 L546.47 389.30 L547.47 394.07 L548.48 399.19 L549.48 404.70 L550.48 410.04 L551.49 414.65 L552.49 418.18 L553.50 421.10 L554.50 423.40" fill="none" stroke="#00ff00" stroke-width="2.0" stroke-linejoin="round" stroke-dasharray="10.5 5.5 2.6 5.5" stroke-dashoffset="17.1" clip-path="url(#p6)"/>
<path d="M360.50 296.00 L361.50 300.27 L362.51 304.06 L363.51 307.25 L364.52 309.79 L365.52 311.94 L366.52 314.02 L367.53 316.27 L368.53 318.55 L369.54 320.68 L370.54 322.55 L371.54 324.23 L372.55 325.85 L373.55 327.49 L374.56 329.19 L375.56 330.90 L376.56 332.58 L377.57 334.18 L378.57 335.74 L379.58 337.26 L380.58 338.68 L381.58 339.98 L382.59 341.18 L383.59 342.31 L384.60 343.38 L385.60 344.40 L386.60 345.39 L387.61 346.35 L388.61 347.26 L389.62 348.14 L390.62 349.01 L391.62 349.85 L392.63 350.68 L393.63 351.49 L394.63 352.29 L395.64 353.06 L396.64 353.83 L397.65 354.58 L398.65 355.33 L399.65 356.06 L400.66 356.78 L401.66 357.49 L402.67 358.20 L403.67 358.90 L404.67 359.60 L405.68 360.31 L406.68 361.00 L407.69 361.69 L408.69 362.36 L409.69 363.02 L410.70 363.69 L411.70 364.36 L412.71 365.04 L413.71 365.75 L414.71 366.48 L415.72 367.25 L416.72 368.04 L417.73 368.87 L418.73 369.72 L419.73 370.62 L420.74 371.55 L421.74 372.54 L422.75 373.62 L423.75 374.75 L424.75 375.91 L425.76 377.05 L426.76 378.15 L427.77 379.17 L428.77 380.12 L429.77 381.03 L430.78 381.93 L431.78 382.79 L432.79 383.64 L433.79 384.46 L434.79 385.27 L435.80 386.06 L436.80 386.83 L437.81 387.58 L438.81 388.32 L439.81 389.03 L440.82 389.73 L441.82 390.41 L442.83 391.08 L443.83 391.73 L444.83 392.35 L445.84 392.96 L446.84 393.60 L447.85 394.27 L448.85 394.98 L449.85 395.71 L450.86 396.46 L451.86 397.23 L452.87 398.00 L453.87 398.77 L454.87 399.53 L455.88 400.28 L456.88 401.02 L457.88 401.75 L458.89 402.48 L459.89 403.22 L460.90 403.94 L461.90 404.67 L462.90 405.40 L463.91 406.13 L464.91 406.86 L465.92 407.60 L466.92 408.33 L467.92 409.07 L468.93 409.81 L469.93 410.56 L470.94 411.30 L471.94 412.04 L472.94 412.79 L473.95 413.54 L474.95 414.29 L475.96 415.03 L476.96 415.79 L477.96 416.54 L478.97 417.29 L479.97 418.05 L480.98 418.80 L481.98 419.56 L482.98 420.32 L483.99 421.09 L484.99 421.85 L486.00 422.62 L487.00 423.40" fill="none" stroke="#0000ff" stroke-width="2.0" stroke-linejoin="round" stroke-dasharray="9.5 5 2.6 5 2.6 5" stroke-dashoffset="12.3" clip-path="url(#p6)"/>
<line x1="106.79" y1="191.00" x2="106.79" y2="185.80" stroke="#000" stroke-width="2.3"/>
<line x1="106.79" y1="74.60" x2="106.79" y2="79.80" stroke="#000" stroke-width="2.3"/>
<line x1="106.79" y1="307.50" x2="106.79" y2="302.30" stroke="#000" stroke-width="2.3"/>
<line x1="106.79" y1="191.00" x2="106.79" y2="196.20" stroke="#000" stroke-width="2.3"/>
<line x1="106.79" y1="423.40" x2="106.79" y2="418.20" stroke="#000" stroke-width="2.3"/>
<line x1="138.52" y1="191.00" x2="138.52" y2="180.80" stroke="#000" stroke-width="2.3"/>
<line x1="138.52" y1="74.60" x2="138.52" y2="84.80" stroke="#000" stroke-width="2.3"/>
<line x1="138.52" y1="307.50" x2="138.52" y2="297.30" stroke="#000" stroke-width="2.3"/>
<line x1="138.52" y1="191.00" x2="138.52" y2="201.20" stroke="#000" stroke-width="2.3"/>
<line x1="138.52" y1="423.40" x2="138.52" y2="413.20" stroke="#000" stroke-width="2.3"/>
<line x1="170.26" y1="191.00" x2="170.26" y2="185.80" stroke="#000" stroke-width="2.3"/>
<line x1="170.26" y1="74.60" x2="170.26" y2="79.80" stroke="#000" stroke-width="2.3"/>
<line x1="170.26" y1="307.50" x2="170.26" y2="302.30" stroke="#000" stroke-width="2.3"/>
<line x1="170.26" y1="191.00" x2="170.26" y2="196.20" stroke="#000" stroke-width="2.3"/>
<line x1="170.26" y1="423.40" x2="170.26" y2="418.20" stroke="#000" stroke-width="2.3"/>
<line x1="202.00" y1="191.00" x2="202.00" y2="180.80" stroke="#000" stroke-width="2.3"/>
<line x1="202.00" y1="74.60" x2="202.00" y2="84.80" stroke="#000" stroke-width="2.3"/>
<line x1="202.00" y1="307.50" x2="202.00" y2="297.30" stroke="#000" stroke-width="2.3"/>
<line x1="202.00" y1="191.00" x2="202.00" y2="201.20" stroke="#000" stroke-width="2.3"/>
<line x1="202.00" y1="423.40" x2="202.00" y2="413.20" stroke="#000" stroke-width="2.3"/>
<line x1="233.74" y1="191.00" x2="233.74" y2="185.80" stroke="#000" stroke-width="2.3"/>
<line x1="233.74" y1="74.60" x2="233.74" y2="79.80" stroke="#000" stroke-width="2.3"/>
<line x1="233.74" y1="307.50" x2="233.74" y2="302.30" stroke="#000" stroke-width="2.3"/>
<line x1="233.74" y1="191.00" x2="233.74" y2="196.20" stroke="#000" stroke-width="2.3"/>
<line x1="233.74" y1="423.40" x2="233.74" y2="418.20" stroke="#000" stroke-width="2.3"/>
<line x1="265.47" y1="191.00" x2="265.47" y2="180.80" stroke="#000" stroke-width="2.3"/>
<line x1="265.47" y1="74.60" x2="265.47" y2="84.80" stroke="#000" stroke-width="2.3"/>
<line x1="265.47" y1="307.50" x2="265.47" y2="297.30" stroke="#000" stroke-width="2.3"/>
<line x1="265.47" y1="191.00" x2="265.47" y2="201.20" stroke="#000" stroke-width="2.3"/>
<line x1="265.47" y1="423.40" x2="265.47" y2="413.20" stroke="#000" stroke-width="2.3"/>
<line x1="297.21" y1="191.00" x2="297.21" y2="185.80" stroke="#000" stroke-width="2.3"/>
<line x1="297.21" y1="74.60" x2="297.21" y2="79.80" stroke="#000" stroke-width="2.3"/>
<line x1="297.21" y1="307.50" x2="297.21" y2="302.30" stroke="#000" stroke-width="2.3"/>
<line x1="297.21" y1="191.00" x2="297.21" y2="196.20" stroke="#000" stroke-width="2.3"/>
<line x1="297.21" y1="423.40" x2="297.21" y2="418.20" stroke="#000" stroke-width="2.3"/>
<line x1="358.03" y1="191.00" x2="358.03" y2="185.80" stroke="#000" stroke-width="2.3"/>
<line x1="358.03" y1="74.60" x2="358.03" y2="79.80" stroke="#000" stroke-width="2.3"/>
<line x1="358.03" y1="307.50" x2="358.03" y2="302.30" stroke="#000" stroke-width="2.3"/>
<line x1="358.03" y1="191.00" x2="358.03" y2="196.20" stroke="#000" stroke-width="2.3"/>
<line x1="358.03" y1="423.40" x2="358.03" y2="418.20" stroke="#000" stroke-width="2.3"/>
<line x1="393.46" y1="191.00" x2="393.46" y2="180.80" stroke="#000" stroke-width="2.3"/>
<line x1="393.46" y1="74.60" x2="393.46" y2="84.80" stroke="#000" stroke-width="2.3"/>
<line x1="393.46" y1="307.50" x2="393.46" y2="297.30" stroke="#000" stroke-width="2.3"/>
<line x1="393.46" y1="191.00" x2="393.46" y2="201.20" stroke="#000" stroke-width="2.3"/>
<line x1="393.46" y1="423.40" x2="393.46" y2="413.20" stroke="#000" stroke-width="2.3"/>
<line x1="428.89" y1="191.00" x2="428.89" y2="185.80" stroke="#000" stroke-width="2.3"/>
<line x1="428.89" y1="74.60" x2="428.89" y2="79.80" stroke="#000" stroke-width="2.3"/>
<line x1="428.89" y1="307.50" x2="428.89" y2="302.30" stroke="#000" stroke-width="2.3"/>
<line x1="428.89" y1="191.00" x2="428.89" y2="196.20" stroke="#000" stroke-width="2.3"/>
<line x1="428.89" y1="423.40" x2="428.89" y2="418.20" stroke="#000" stroke-width="2.3"/>
<line x1="464.31" y1="191.00" x2="464.31" y2="180.80" stroke="#000" stroke-width="2.3"/>
<line x1="464.31" y1="74.60" x2="464.31" y2="84.80" stroke="#000" stroke-width="2.3"/>
<line x1="464.31" y1="307.50" x2="464.31" y2="297.30" stroke="#000" stroke-width="2.3"/>
<line x1="464.31" y1="191.00" x2="464.31" y2="201.20" stroke="#000" stroke-width="2.3"/>
<line x1="464.31" y1="423.40" x2="464.31" y2="413.20" stroke="#000" stroke-width="2.3"/>
<line x1="499.74" y1="191.00" x2="499.74" y2="185.80" stroke="#000" stroke-width="2.3"/>
<line x1="499.74" y1="74.60" x2="499.74" y2="79.80" stroke="#000" stroke-width="2.3"/>
<line x1="499.74" y1="307.50" x2="499.74" y2="302.30" stroke="#000" stroke-width="2.3"/>
<line x1="499.74" y1="191.00" x2="499.74" y2="196.20" stroke="#000" stroke-width="2.3"/>
<line x1="499.74" y1="423.40" x2="499.74" y2="418.20" stroke="#000" stroke-width="2.3"/>
<line x1="535.17" y1="191.00" x2="535.17" y2="180.80" stroke="#000" stroke-width="2.3"/>
<line x1="535.17" y1="74.60" x2="535.17" y2="84.80" stroke="#000" stroke-width="2.3"/>
<line x1="535.17" y1="307.50" x2="535.17" y2="297.30" stroke="#000" stroke-width="2.3"/>
<line x1="535.17" y1="191.00" x2="535.17" y2="201.20" stroke="#000" stroke-width="2.3"/>
<line x1="535.17" y1="423.40" x2="535.17" y2="413.20" stroke="#000" stroke-width="2.3"/>
<line x1="570.60" y1="191.00" x2="570.60" y2="185.80" stroke="#000" stroke-width="2.3"/>
<line x1="570.60" y1="74.60" x2="570.60" y2="79.80" stroke="#000" stroke-width="2.3"/>
<line x1="570.60" y1="307.50" x2="570.60" y2="302.30" stroke="#000" stroke-width="2.3"/>
<line x1="570.60" y1="191.00" x2="570.60" y2="196.20" stroke="#000" stroke-width="2.3"/>
<line x1="570.60" y1="423.40" x2="570.60" y2="418.20" stroke="#000" stroke-width="2.3"/>
<line x1="75.05" y1="174.37" x2="80.25" y2="174.37" stroke="#000" stroke-width="2.3"/>
<line x1="322.60" y1="174.37" x2="327.80" y2="174.37" stroke="#000" stroke-width="2.3"/>
<line x1="570.60" y1="174.37" x2="565.40" y2="174.37" stroke="#000" stroke-width="2.3"/>
<line x1="75.05" y1="157.74" x2="85.25" y2="157.74" stroke="#000" stroke-width="2.3"/>
<line x1="322.60" y1="157.74" x2="332.80" y2="157.74" stroke="#000" stroke-width="2.3"/>
<line x1="570.60" y1="157.74" x2="560.40" y2="157.74" stroke="#000" stroke-width="2.3"/>
<line x1="75.05" y1="141.11" x2="80.25" y2="141.11" stroke="#000" stroke-width="2.3"/>
<line x1="322.60" y1="141.11" x2="327.80" y2="141.11" stroke="#000" stroke-width="2.3"/>
<line x1="570.60" y1="141.11" x2="565.40" y2="141.11" stroke="#000" stroke-width="2.3"/>
<line x1="75.05" y1="124.49" x2="85.25" y2="124.49" stroke="#000" stroke-width="2.3"/>
<line x1="322.60" y1="124.49" x2="332.80" y2="124.49" stroke="#000" stroke-width="2.3"/>
<line x1="570.60" y1="124.49" x2="560.40" y2="124.49" stroke="#000" stroke-width="2.3"/>
<line x1="75.05" y1="107.86" x2="80.25" y2="107.86" stroke="#000" stroke-width="2.3"/>
<line x1="322.60" y1="107.86" x2="327.80" y2="107.86" stroke="#000" stroke-width="2.3"/>
<line x1="570.60" y1="107.86" x2="565.40" y2="107.86" stroke="#000" stroke-width="2.3"/>
<line x1="75.05" y1="91.23" x2="85.25" y2="91.23" stroke="#000" stroke-width="2.3"/>
<line x1="322.60" y1="91.23" x2="332.80" y2="91.23" stroke="#000" stroke-width="2.3"/>
<line x1="570.60" y1="91.23" x2="560.40" y2="91.23" stroke="#000" stroke-width="2.3"/>
<line x1="75.05" y1="290.87" x2="80.25" y2="290.87" stroke="#000" stroke-width="2.3"/>
<line x1="322.60" y1="290.87" x2="327.80" y2="290.87" stroke="#000" stroke-width="2.3"/>
<line x1="570.60" y1="290.87" x2="565.40" y2="290.87" stroke="#000" stroke-width="2.3"/>
<line x1="75.05" y1="274.24" x2="85.25" y2="274.24" stroke="#000" stroke-width="2.3"/>
<line x1="322.60" y1="274.24" x2="332.80" y2="274.24" stroke="#000" stroke-width="2.3"/>
<line x1="570.60" y1="274.24" x2="560.40" y2="274.24" stroke="#000" stroke-width="2.3"/>
<line x1="75.05" y1="257.61" x2="80.25" y2="257.61" stroke="#000" stroke-width="2.3"/>
<line x1="322.60" y1="257.61" x2="327.80" y2="257.61" stroke="#000" stroke-width="2.3"/>
<line x1="570.60" y1="257.61" x2="565.40" y2="257.61" stroke="#000" stroke-width="2.3"/>
<line x1="75.05" y1="240.99" x2="85.25" y2="240.99" stroke="#000" stroke-width="2.3"/>
<line x1="322.60" y1="240.99" x2="332.80" y2="240.99" stroke="#000" stroke-width="2.3"/>
<line x1="570.60" y1="240.99" x2="560.40" y2="240.99" stroke="#000" stroke-width="2.3"/>
<line x1="75.05" y1="224.36" x2="80.25" y2="224.36" stroke="#000" stroke-width="2.3"/>
<line x1="322.60" y1="224.36" x2="327.80" y2="224.36" stroke="#000" stroke-width="2.3"/>
<line x1="570.60" y1="224.36" x2="565.40" y2="224.36" stroke="#000" stroke-width="2.3"/>
<line x1="75.05" y1="207.73" x2="85.25" y2="207.73" stroke="#000" stroke-width="2.3"/>
<line x1="322.60" y1="207.73" x2="332.80" y2="207.73" stroke="#000" stroke-width="2.3"/>
<line x1="570.60" y1="207.73" x2="560.40" y2="207.73" stroke="#000" stroke-width="2.3"/>
<line x1="75.05" y1="406.77" x2="80.25" y2="406.77" stroke="#000" stroke-width="2.3"/>
<line x1="322.60" y1="406.77" x2="327.80" y2="406.77" stroke="#000" stroke-width="2.3"/>
<line x1="570.60" y1="406.77" x2="565.40" y2="406.77" stroke="#000" stroke-width="2.3"/>
<line x1="75.05" y1="390.14" x2="85.25" y2="390.14" stroke="#000" stroke-width="2.3"/>
<line x1="322.60" y1="390.14" x2="332.80" y2="390.14" stroke="#000" stroke-width="2.3"/>
<line x1="570.60" y1="390.14" x2="560.40" y2="390.14" stroke="#000" stroke-width="2.3"/>
<line x1="75.05" y1="373.51" x2="80.25" y2="373.51" stroke="#000" stroke-width="2.3"/>
<line x1="322.60" y1="373.51" x2="327.80" y2="373.51" stroke="#000" stroke-width="2.3"/>
<line x1="570.60" y1="373.51" x2="565.40" y2="373.51" stroke="#000" stroke-width="2.3"/>
<line x1="75.05" y1="356.89" x2="85.25" y2="356.89" stroke="#000" stroke-width="2.3"/>
<line x1="322.60" y1="356.89" x2="332.80" y2="356.89" stroke="#000" stroke-width="2.3"/>
<line x1="570.60" y1="356.89" x2="560.40" y2="356.89" stroke="#000" stroke-width="2.3"/>
<line x1="75.05" y1="340.26" x2="80.25" y2="340.26" stroke="#000" stroke-width="2.3"/>
<line x1="322.60" y1="340.26" x2="327.80" y2="340.26" stroke="#000" stroke-width="2.3"/>
<line x1="570.60" y1="340.26" x2="565.40" y2="340.26" stroke="#000" stroke-width="2.3"/>
<line x1="75.05" y1="323.63" x2="85.25" y2="323.63" stroke="#000" stroke-width="2.3"/>
<line x1="322.60" y1="323.63" x2="332.80" y2="323.63" stroke="#000" stroke-width="2.3"/>
<line x1="570.60" y1="323.63" x2="560.40" y2="323.63" stroke="#000" stroke-width="2.3"/>
<rect x="75.05" y="74.60" width="495.55" height="348.80" fill="none" stroke="#000" stroke-width="2.3"/>
<line x1="570.65" y1="73.45" x2="570.65" y2="424.55" stroke="#000" stroke-width="2.45"/>
<line x1="322.60" y1="74.60" x2="322.60" y2="423.40" stroke="#000" stroke-width="2.3"/>
<line x1="75.05" y1="191.00" x2="570.60" y2="191.00" stroke="#000" stroke-width="2.3"/>
<line x1="75.05" y1="307.50" x2="570.60" y2="307.50" stroke="#000" stroke-width="2.3"/>
<rect x="273.90" y="74.60" width="131.80" height="60.90" fill="#fff" stroke="#000" stroke-width="2.5"/>
<line x1="279.9" y1="90.9" x2="320" y2="90.9" stroke="#000" stroke-width="2.6" stroke-dasharray="9.8 5.3"/>
<line x1="279.9" y1="118.9" x2="320" y2="118.9" stroke="#ff0000" stroke-width="2.6"/>
<text x="330.00" y="97.60" font-family="Liberation Serif" font-size="26.0" text-anchor="start" fill="#000">SLy5</text>
<text x="330.00" y="125.60" font-family="Liberation Serif" font-size="26.0" text-anchor="start" fill="#000">SLy5-t</text>
<text x="109.20" y="110.00" font-family="Liberation Serif" font-size="29.3" text-anchor="start" fill="#000">(0,0,0)</text>
<text x="109.20" y="219.30" font-family="Liberation Serif" font-size="29.3" text-anchor="start" fill="#000">(1,0,0)</text>
<text x="109.30" y="338.70" font-family="Liberation Serif" font-size="29.3" text-anchor="start" fill="#000">(1,1,0)</text>
<text x="75.05" y="444.30" font-family="Liberation Serif" font-size="23" text-anchor="middle" fill="#000">0</text>
<text x="139.52" y="444.30" font-family="Liberation Serif" font-size="23" text-anchor="middle" fill="#000">10</text>
<text x="203.00" y="444.30" font-family="Liberation Serif" font-size="23" text-anchor="middle" fill="#000">20</text>
<text x="266.47" y="444.30" font-family="Liberation Serif" font-size="23" text-anchor="middle" fill="#000">30</text>
<text x="323.10" y="444.30" font-family="Liberation Serif" font-size="23" text-anchor="middle" fill="#000">0</text>
<text x="393.96" y="444.30" font-family="Liberation Serif" font-size="23" text-anchor="middle" fill="#000">20</text>
<text x="464.81" y="444.30" font-family="Liberation Serif" font-size="23" text-anchor="middle" fill="#000">40</text>
<text x="535.67" y="444.30" font-family="Liberation Serif" font-size="23" text-anchor="middle" fill="#000">60</text>
<text x="71.30" y="165.74" font-family="Liberation Serif" font-size="23" text-anchor="end" fill="#000">1</text>
<text x="70.00" y="132.49" font-family="Liberation Serif" font-size="23" text-anchor="end" fill="#000">2</text>
<text x="70.00" y="99.23" font-family="Liberation Serif" font-size="23" text-anchor="end" fill="#000">3</text>
<text x="70.00" y="315.50" font-family="Liberation Serif" font-size="23" text-anchor="end" fill="#000">0</text>
<text x="71.30" y="282.24" font-family="Liberation Serif" font-size="23" text-anchor="end" fill="#000">1</text>
<text x="70.00" y="248.99" font-family="Liberation Serif" font-size="23" text-anchor="end" fill="#000">2</text>
<text x="70.00" y="215.73" font-family="Liberation Serif" font-size="23" text-anchor="end" fill="#000">3</text>
<text x="70.00" y="431.40" font-family="Liberation Serif" font-size="23" text-anchor="end" fill="#000">0</text>
<text x="71.30" y="398.14" font-family="Liberation Serif" font-size="23" text-anchor="end" fill="#000">1</text>
<text x="70.00" y="364.89" font-family="Liberation Serif" font-size="23" text-anchor="end" fill="#000">2</text>
<text x="70.00" y="331.63" font-family="Liberation Serif" font-size="23" text-anchor="end" fill="#000">3</text>
<text x="271.00" y="469.90" font-family="Liberation Serif" font-size="27.5" text-anchor="start" fill="#000">&#969;</text>
<text x="295.80" y="469.90" font-family="Liberation Serif" font-size="26.0" text-anchor="start" fill="#000">(MeV)</text>
<text transform="translate(48.90 373.70) rotate(-90) scale(1.0 1)" font-family="Liberation Serif" font-size="24.5" fill="#000">10</text>
<text transform="translate(33.60 352.50) rotate(-90) scale(1.0 1)" font-family="Liberation Serif" font-size="17.4" fill="#000">3</text>
<text transform="translate(48.90 343.60) rotate(-90) scale(1.0 1)" font-family="Liberation Serif" font-size="24.5" fill="#000">S</text>
<text transform="translate(33.60 329.10) rotate(-90) scale(1.0 1)" font-family="Liberation Serif" font-size="17.4" fill="#000">(</text>
<text transform="translate(34.40 322.10) rotate(-90) scale(1.0 1)" font-family="Liberation Serif" font-size="20.5" fill="#000">&#945;</text>
<text transform="translate(33.60 312.10) rotate(-90) scale(1.0 1)" font-family="Liberation Serif" font-size="17.4" fill="#000">)</text>
<text transform="translate(48.90 304.70) rotate(-90) scale(1.0 1)" font-family="Liberation Serif" font-size="24.5" fill="#000">(q,</text>
<text transform="translate(48.90 281.00) rotate(-90) scale(1.12 1)" font-family="Liberation Serif" font-size="26" fill="#000">&#969;</text>
<text transform="translate(48.90 262.70) rotate(-90) scale(1.0 1)" font-family="Liberation Serif" font-size="24.5" fill="#000">)</text>
<text transform="translate(48.90 244.30) rotate(-90) scale(1.0 1)" font-family="Liberation Serif" font-size="24.5" fill="#000">(MeV</text>
<text transform="translate(33.60 186.90) rotate(-90) scale(1.0 1)" font-family="Liberation Serif" font-size="17.4" fill="#000">-1</text>
<text transform="translate(48.90 171.70) rotate(-90) scale(1.0 1)" font-family="Liberation Serif" font-size="24.5" fill="#000">fm</text>
<text transform="translate(33.60 144.10) rotate(-90) scale(1.0 1)" font-family="Liberation Serif" font-size="17.4" fill="#000">-3</text>
<text transform="translate(48.90 133.10) rotate(-90) scale(1.0 1)" font-family="Liberation Serif" font-size="24.5" fill="#000">)</text>
<text x="169.60" y="35.90" font-family="Liberation Sans" font-size="18.5" text-anchor="start" fill="#000">&#961;</text>
<line x1="180.90" y1="29.2" x2="191.80" y2="29.2" stroke="#000" stroke-width="1.5"/>
<line x1="180.90" y1="33.5" x2="191.80" y2="33.5" stroke="#000" stroke-width="1.5"/>
<text x="192.50" y="35.90" font-family="Liberation Sans" font-size="18.5" text-anchor="start" fill="#000">&#961;</text>
<text x="203.60" y="44.70" font-family="Liberation Serif" font-size="15.4" text-anchor="start" fill="#000">0</text>
<text x="211.80" y="36.20" font-family="Liberation Serif" font-size="20" text-anchor="start" fill="#000">/2</text>
<text x="425.90" y="35.90" font-family="Liberation Sans" font-size="18.5" text-anchor="start" fill="#000">&#961;</text>
<line x1="437.20" y1="29.2" x2="448.10" y2="29.2" stroke="#000" stroke-width="1.5"/>
<line x1="437.20" y1="33.5" x2="448.10" y2="33.5" stroke="#000" stroke-width="1.5"/>
<text x="448.80" y="35.90" font-family="Liberation Sans" font-size="18.5" text-anchor="start" fill="#000">&#961;</text>
<text x="459.90" y="44.70" font-family="Liberation Serif" font-size="15.4" text-anchor="start" fill="#000">0</text>
</svg>
</body></html>
